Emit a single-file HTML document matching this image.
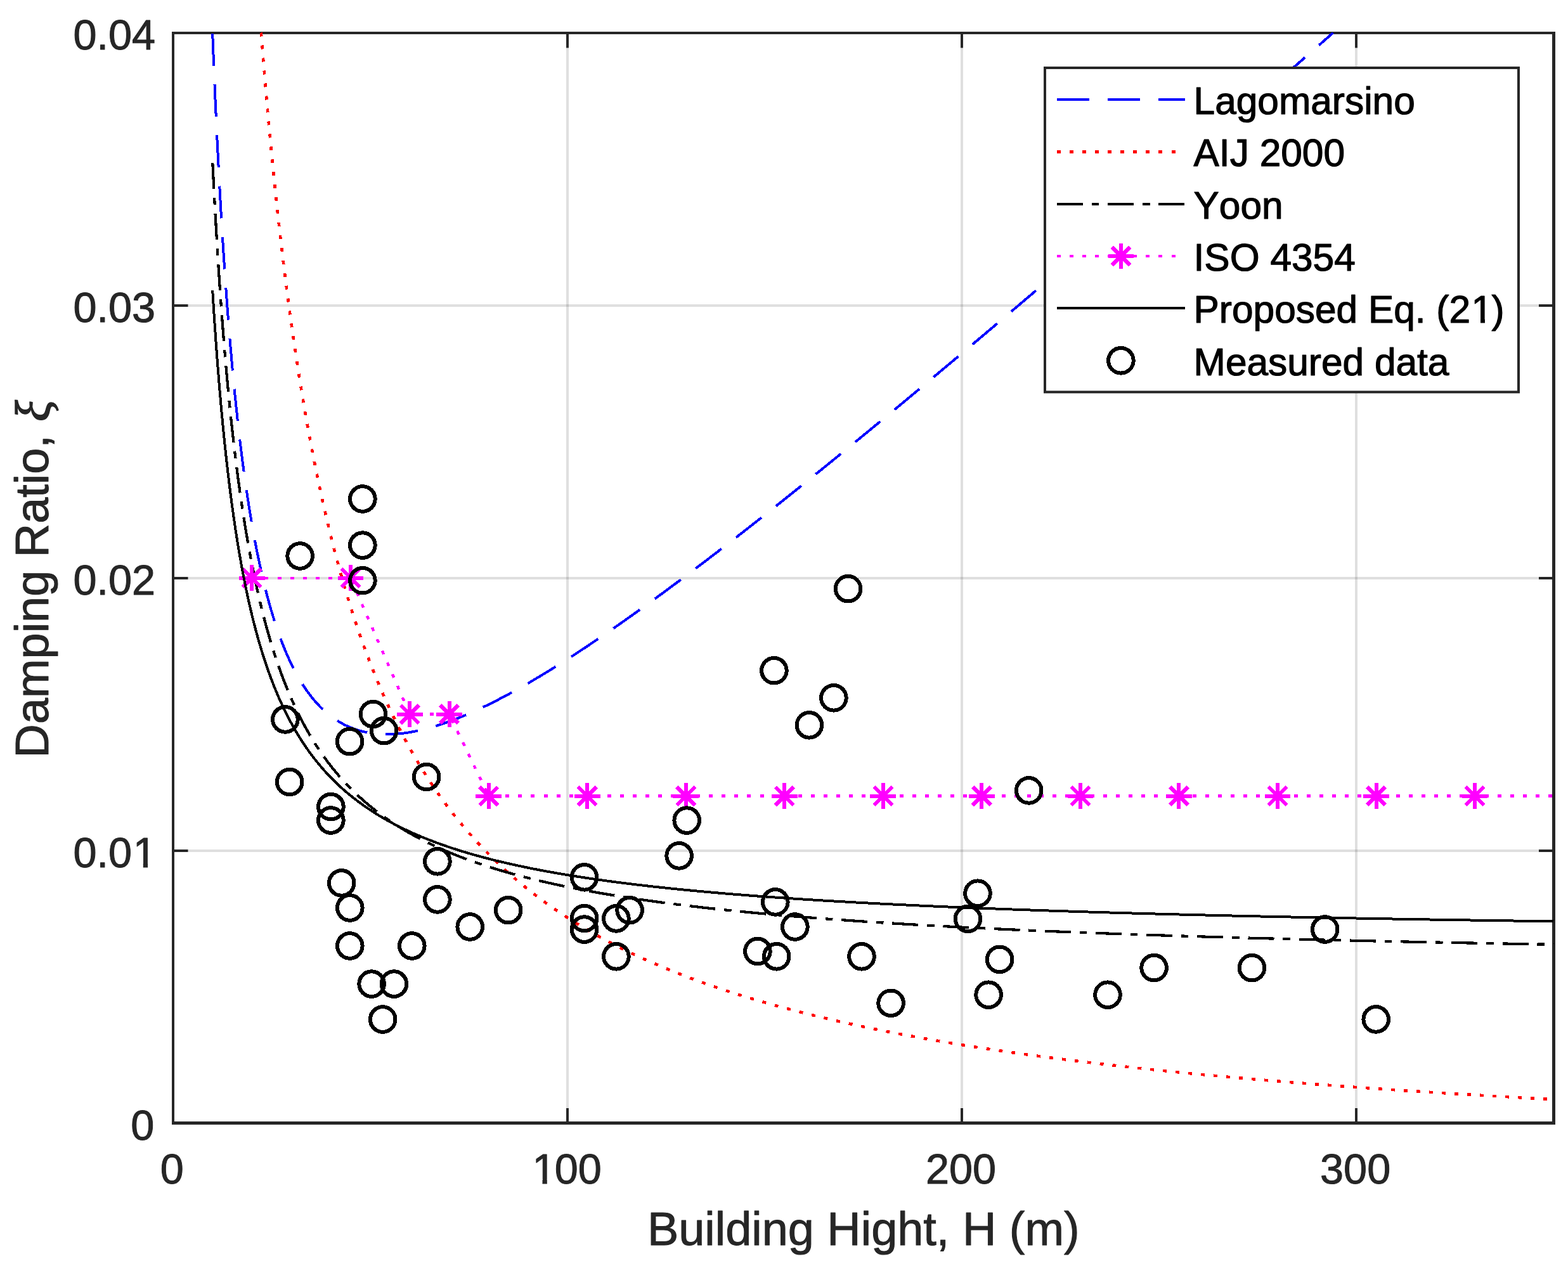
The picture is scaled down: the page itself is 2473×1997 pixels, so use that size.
<!DOCTYPE html><html><head><meta charset="utf-8"><title>Damping ratio vs building height</title><style>html,body{margin:0;padding:0;background:#fff;overflow:hidden}svg{display:block}text{font-kerning:none}</style></head><body>
<svg xmlns="http://www.w3.org/2000/svg" width="2473" height="1997" viewBox="0 0 2473 1997">
<rect x="0" y="0" width="2473" height="1997" fill="#fff"/>
<defs><clipPath id="ax"><rect x="273.00" y="52.00" width="2177.50" height="1719.40"/></clipPath>
<g id="ast"><path d="M-20.40 0H20.40M0 -20.40V20.40M-14.42 -14.42L14.42 14.42M-14.42 14.42L14.42 -14.42" fill="none" stroke="#ff00ff" stroke-width="6"/></g>
</defs>
<g fill="#262626" fill-opacity="0.15"><rect x="893" y="52.0" width="4" height="1719.5"/><rect x="1515" y="52.0" width="4" height="1719.5"/><rect x="2137" y="52.0" width="4" height="1719.5"/><rect x="273.0" y="1340" width="2177.5" height="4"/><rect x="273.0" y="910" width="2177.5" height="4"/><rect x="273.0" y="480" width="2177.5" height="4"/></g>
<g fill="#262626"><rect x="893" y="1748.0" width="4" height="23.5"/><rect x="893" y="52.0" width="4" height="23.5"/><rect x="1515" y="1748.0" width="4" height="23.5"/><rect x="1515" y="52.0" width="4" height="23.5"/><rect x="2137" y="1748.0" width="4" height="23.5"/><rect x="2137" y="52.0" width="4" height="23.5"/><rect x="273.0" y="1340" width="23.5" height="4"/><rect x="2427.0" y="1340" width="23.5" height="4"/><rect x="273.0" y="910" width="23.5" height="4"/><rect x="2427.0" y="910" width="23.5" height="4"/><rect x="273.0" y="480" width="23.5" height="4"/><rect x="2427.0" y="480" width="23.5" height="4"/><rect x="271" y="50" width="2182" height="4"/><rect x="271" y="1769" width="2182" height="5"/><rect x="271" y="50" width="4" height="1724"/><rect x="2448" y="50" width="5" height="1724"/></g>
<g fill="none" shape-rendering="crispEdges">
<path d="M335.21 53.06L335.33 56.06L335.45 59.06L335.56 62.05L335.68 65.05L335.80 68.04L335.92 71.04L336.04 74.03L336.16 77.03L336.28 80.02L336.40 83.02L336.52 86.01L336.64 89.01L336.76 92.00L336.88 95.00L337.01 97.99L337.13 100.99L337.25 103.98L337.38 106.98L337.50 109.97L337.63 112.96L337.76 115.96L337.88 118.95L338.01 121.95L338.14 124.94L338.26 127.94L338.39 130.93L338.52 133.93L338.65 136.92L338.78 139.92L338.91 142.91L339.04 145.91L339.17 148.90L339.31 151.90L339.44 154.89L339.57 157.88L339.71 160.88L339.84 163.87L339.98 166.87L340.11 169.86L340.25 172.86L340.38 175.85L340.52 178.84L340.66 181.84L340.80 184.83L340.94 187.83L341.08 190.82L341.22 193.82L341.36 196.81L341.50 199.80L341.64 202.80L341.78 205.79L341.93 208.79L342.07 211.78L342.21 214.77L342.36 217.77L342.51 220.76L342.65 223.76L342.80 226.75L342.95 229.74L343.10 232.74L343.24 235.73L343.39 238.72L343.54 241.72L343.70 244.71L343.85 247.71L344.00 250.70L344.15 253.69L344.31 256.69L344.46 259.68L344.62 262.67L344.77 265.67L344.93 268.66L345.09 271.65L345.24 274.65L345.40 277.64L345.56 280.63L345.72 283.63L345.88 286.62L346.04 289.61L346.21 292.61L346.37 295.60L346.53 298.59L346.70 301.58L346.86 304.58L347.03 307.57L347.20 310.56L347.37 313.56L347.53 316.55L347.70 319.54L347.87 322.53L348.05 325.53L348.22 328.52L348.39 331.51L348.56 334.50L348.74 337.50L348.91 340.49L349.09 343.48L349.27 346.47L349.44 349.46L349.62 352.46L349.80 355.45L349.98 358.44L350.16 361.43L350.35 364.42L350.53 367.42L350.71 370.41L350.90 373.40L351.08 376.39L351.27 379.38L351.46 382.37L351.65 385.37L351.84 388.36L352.03 391.35L352.22 394.34L352.41 397.33L352.61 400.32L352.80 403.31L353.00 406.30L353.19 409.30L353.39 412.29L353.59 415.28L353.79 418.27L353.99 421.26L354.19 424.25L354.40 427.24L354.60 430.23L354.81 433.22L355.01 436.21L355.22 439.20L355.43 442.19L355.64 445.18L355.85 448.17L356.06 451.16L356.27 454.15L356.49 457.14L356.70 460.13L356.92 463.12L357.14 466.11L357.35 469.10L357.57 472.09L357.80 475.08L358.02 478.07L358.24 481.06L358.47 484.05L358.69 487.03L358.92 490.02L359.15 493.01L359.38 496.00L359.61 498.99L359.84 501.98L360.08 504.97L360.31 507.95L360.55 510.94L360.79 513.93L361.03 516.92L361.27 519.90L361.51 522.89L361.76 525.88L362.00 528.87L362.25 531.85L362.50 534.84L362.75 537.83L363.00 540.82L363.25 543.80L363.50 546.79L363.76 549.78L364.02 552.76L364.28 555.75L364.54 558.73L364.80 561.72L365.06 564.71L365.33 567.69L365.59 570.68L365.86 573.66L366.13 576.65L366.41 579.63L366.68 582.62L366.95 585.60L367.23 588.59L367.51 591.57L367.79 594.56L368.07 597.54L368.36 600.52L368.64 603.51L368.93 606.49L369.22 609.47L369.51 612.46L369.81 615.44L370.10 618.42L370.40 621.41L370.70 624.39L371.00 627.37L371.31 630.35L371.61 633.33L371.92 636.32L372.23 639.30L372.54 642.28L372.85 645.26L373.17 648.24L373.49 651.22L373.81 654.20L374.13 657.18L374.46 660.16L374.79 663.14L375.11 666.12L375.45 669.10L375.78 672.08L376.12 675.06L376.46 678.03L376.80 681.01L377.14 683.99L377.49 686.97L377.84 689.94L378.19 692.92L378.54 695.90L378.90 698.87L379.26 701.85L379.62 704.82L379.99 707.80L380.35 710.77L380.73 713.75L381.10 716.72L381.47 719.70L381.85 722.67L382.24 725.64L382.62 728.62L383.01 731.59L383.40 734.56L383.79 737.53L384.19 740.50L384.59 743.47L384.99 746.44L385.40 749.41L385.81 752.38L386.22 755.35L386.64 758.32L387.06 761.29L387.48 764.25L387.91 767.22L388.34 770.19L388.77 773.15L389.21 776.12L389.65 779.08L390.10 782.05L390.55 785.01L391.00 787.97L391.46 790.94L391.92 793.90L392.38 796.86L392.85 799.82L393.32 802.78L393.80 805.74L394.28 808.70L394.77 811.66L395.26 814.61L395.75 817.57L396.25 820.53L396.75 823.48L397.26 826.43L397.77 829.39L398.29 832.34L398.81 835.29L399.34 838.24L399.87 841.19L400.41 844.14L400.95 847.09L401.50 850.04L402.06 852.98L402.61 855.93L403.18 858.87L403.75 861.81L404.32 864.75L404.90 867.70L405.49 870.63L406.09 873.57L406.68 876.51L407.29 879.45L407.90 882.38L408.52 885.31L409.14 888.24L409.77 891.17L410.41 894.10L411.06 897.03L411.71 899.96L412.37 902.88L413.03 905.80L413.71 908.72L414.39 911.64L415.08 914.56L415.77 917.48L416.48 920.39L417.19 923.30L417.91 926.21L418.64 929.12L419.37 932.02L420.12 934.93L420.88 937.83L421.64 940.73L422.41 943.62L423.19 946.52L423.99 949.41L424.79 952.29L425.60 955.18L426.42 958.06L427.25 960.94L428.10 963.82L428.95 966.69L429.82 969.56L430.69 972.43L431.58 975.29L432.48 978.15L433.39 981.01L434.32 983.86L435.25 986.71L436.20 989.55L437.16 992.39L438.14 995.22L439.13 998.05L440.13 1000.88L441.15 1003.69L442.18 1006.51L443.23 1009.32L444.29 1012.12L445.37 1014.92L446.47 1017.71L447.58 1020.49L448.71 1023.27L449.85 1026.04L451.01 1028.80L452.20 1031.55L453.40 1034.30L454.61 1037.04L455.85 1039.77L457.11 1042.49L458.39 1045.20L459.69 1047.90L461.01 1050.59L462.35 1053.27L463.72 1055.94L465.11 1058.60L466.52 1061.24L467.96 1063.87L469.42 1066.49L470.91 1069.09L472.42 1071.68L473.96 1074.25L475.53 1076.81L477.12 1079.34L478.74 1081.86L480.39 1084.36L482.08 1086.85L483.79 1089.31L485.53 1091.74L487.31 1094.16L489.11 1096.55L490.95 1098.92L492.83 1101.26L494.74 1103.57L496.68 1105.85L498.66 1108.10L500.67 1110.33L502.72 1112.51L504.80 1114.67L506.92 1116.78L509.08 1118.86L511.28 1120.90L513.51 1122.90L515.78 1124.86L518.09 1126.77L520.44 1128.64L522.82 1130.45L525.24 1132.22L527.69 1133.94L530.19 1135.61L532.71 1137.22L535.27 1138.78L537.87 1140.29L540.49 1141.73L543.15 1143.12L545.84 1144.44L548.55 1145.71L551.30 1146.91L554.07 1148.06L556.86 1149.14L559.68 1150.16L562.52 1151.11L565.39 1152.01L568.27 1152.84L571.16 1153.61L574.08 1154.31L577.00 1154.96L579.94 1155.54L582.89 1156.07L585.85 1156.53L588.82 1156.94L591.80 1157.29L594.78 1157.59L597.77 1157.83L600.76 1158.01L603.76 1158.15L606.75 1158.23L609.75 1158.26L612.75 1158.25L615.74 1158.18L618.74 1158.07L621.73 1157.92L624.72 1157.72L627.71 1157.48L630.70 1157.20L633.68 1156.88L636.65 1156.52L639.62 1156.12L642.59 1155.69L645.55 1155.22L648.51 1154.72L651.45 1154.18L654.40 1153.61L657.33 1153.02L660.27 1152.39L663.19 1151.73L666.11 1151.04L669.02 1150.33L671.92 1149.59L674.82 1148.83L677.71 1148.03L680.60 1147.22L683.48 1146.38L686.35 1145.52L689.21 1144.64L692.07 1143.74L694.92 1142.81L697.77 1141.87L700.60 1140.90L703.43 1139.92L706.26 1138.92L709.08 1137.90L711.89 1136.86L714.70 1135.80L717.50 1134.73L720.29 1133.65L723.08 1132.54L725.86 1131.43L728.63 1130.29L731.40 1129.15L734.17 1127.99L736.92 1126.81L739.68 1125.62L742.42 1124.42L745.16 1123.21L747.90 1121.99L750.63 1120.75L753.35 1119.50L756.07 1118.24L758.79 1116.97L761.50 1115.68L764.20 1114.39L766.90 1113.09L769.59 1111.77L772.28 1110.45L774.97 1109.12L777.65 1107.78L780.32 1106.42L782.99 1105.06L785.66 1103.69L788.32 1102.32L790.98 1100.93L793.63 1099.53L796.28 1098.13L798.93 1096.72L801.57 1095.30L804.20 1093.88L806.84 1092.44L809.47 1091.00L812.09 1089.55L814.71 1088.10L817.33 1086.64L819.94 1085.17L822.55 1083.70L825.16 1082.21L827.76 1080.73L830.36 1079.23L832.95 1077.73L835.55 1076.23L838.13 1074.72L840.72 1073.20L843.30 1071.68L845.88 1070.15L848.45 1068.62L851.03 1067.08L853.60 1065.53L856.16 1063.98L858.73 1062.43L861.29 1060.87L863.84 1059.31L866.40 1057.74L868.95 1056.16L871.50 1054.59L874.04 1053.00L876.59 1051.42L879.13 1049.83L881.66 1048.23L884.20 1046.63L886.73 1045.03L889.26 1043.42L891.79 1041.81L894.31 1040.19L896.83 1038.57L899.35 1036.95L901.87 1035.32L904.38 1033.69L906.90 1032.05L909.41 1030.41L911.91 1028.77L914.42 1027.13L916.92 1025.48L919.42 1023.83L921.92 1022.17L924.42 1020.51L926.91 1018.85L929.41 1017.18L931.90 1015.51L934.38 1013.84L936.87 1012.17L939.35 1010.49L941.84 1008.81L944.32 1007.13L946.79 1005.44L949.27 1003.75L951.74 1002.06L954.22 1000.37L956.69 998.67L959.16 996.97L961.62 995.26L964.09 993.56L966.55 991.85L969.01 990.14L971.47 988.43L973.93 986.71L976.39 984.99L978.84 983.27L981.29 981.55L983.75 979.83L986.19 978.10L988.64 976.37L991.09 974.64L993.53 972.90L995.98 971.17L998.42 969.43L1000.86 967.69L1003.30 965.95L1005.74 964.20L1008.17 962.45L1010.61 960.71L1013.04 958.96L1015.47 957.20L1017.90 955.45L1020.33 953.69L1022.76 951.93L1025.18 950.17L1027.61 948.41L1030.03 946.64L1032.45 944.88L1034.87 943.11L1037.29 941.34L1039.71 939.57L1042.13 937.80L1044.54 936.02L1046.96 934.24L1049.37 932.47L1051.78 930.69L1054.19 928.90L1056.60 927.12L1059.01 925.34L1061.42 923.55L1063.82 921.76L1066.23 919.97L1068.63 918.18L1071.03 916.39L1073.43 914.59L1075.83 912.80L1078.23 911.00L1080.63 909.20L1083.03 907.40L1085.42 905.60L1087.82 903.80L1090.21 901.99L1092.60 900.19L1094.99 898.38L1097.38 896.57L1099.77 894.76L1102.16 892.95L1104.55 891.14L1106.94 889.33L1109.32 887.51L1111.71 885.70L1114.09 883.88L1116.47 882.06L1118.85 880.24L1121.24 878.42L1123.61 876.60L1125.99 874.77L1128.37 872.95L1130.75 871.12L1133.13 869.29L1135.50 867.47L1137.87 865.64L1140.25 863.81L1142.62 861.97L1144.99 860.14L1147.36 858.31L1149.73 856.47L1152.10 854.64L1154.47 852.80L1156.84 850.96L1159.21 849.12L1161.57 847.28L1163.94 845.44L1166.30 843.60L1168.67 841.76L1171.03 839.91L1173.39 838.07L1175.75 836.22L1178.11 834.37L1180.47 832.52L1182.83 830.67L1185.19 828.82L1187.55 826.97L1189.90 825.12L1192.26 823.27L1194.62 821.42L1196.97 819.56L1199.32 817.70L1201.68 815.85L1204.03 813.99L1206.38 812.13L1208.73 810.27L1211.08 808.41L1213.43 806.55L1215.78 804.69L1218.13 802.83L1220.48 800.97L1222.83 799.10L1225.17 797.24L1227.52 795.37L1229.86 793.50L1232.21 791.64L1234.55 789.77L1236.90 787.90L1239.24 786.03L1241.58 784.16L1243.92 782.29L1246.26 780.42L1248.61 778.54L1250.95 776.67L1253.28 774.80L1255.62 772.92L1257.96 771.05L1260.30 769.17L1262.64 767.29L1264.97 765.41L1267.31 763.54L1269.64 761.66L1271.98 759.78L1274.31 757.90L1276.64 756.01L1278.98 754.13L1281.31 752.25L1283.64 750.37L1285.97 748.48L1288.30 746.60L1290.63 744.71L1292.96 742.83L1295.29 740.94L1297.62 739.05L1299.95 737.17L1302.28 735.28L1304.61 733.39L1306.93 731.50L1309.26 729.61L1311.58 727.72L1313.91 725.83L1316.23 723.93L1318.56 722.04L1320.88 720.15L1323.21 718.25L1325.53 716.36L1327.85 714.46L1330.17 712.57L1332.50 710.67L1334.82 708.78L1337.14 706.88L1339.46 704.98L1341.78 703.08L1344.10 701.18L1346.41 699.28L1348.73 697.38L1351.05 695.48L1353.37 693.58L1355.69 691.68L1358.00 689.78L1360.32 687.88L1362.63 685.97L1364.95 684.07L1367.26 682.17L1369.58 680.26L1371.89 678.36L1374.21 676.45L1376.52 674.54L1378.83 672.64L1381.15 670.73L1383.46 668.82L1385.77 666.92L1388.08 665.01L1390.39 663.10L1392.70 661.19L1395.01 659.28L1397.32 657.37L1399.63 655.46L1401.94 653.55L1404.25 651.63L1406.56 649.72L1408.87 647.81L1411.17 645.90L1413.48 643.98L1415.79 642.07L1418.09 640.15L1420.40 638.24L1422.70 636.32L1425.01 634.41L1427.31 632.49L1429.62 630.58L1431.92 628.66L1434.23 626.74L1436.53 624.82L1438.83 622.90L1441.14 620.99L1443.44 619.07L1445.74 617.15L1448.04 615.23L1450.35 613.31L1452.65 611.39L1454.95 609.47L1457.25 607.54L1459.55 605.62L1461.85 603.70L1464.15 601.78L1466.45 599.85L1468.75 597.93L1471.05 596.01L1473.34 594.08L1475.64 592.16L1477.94 590.23L1480.24 588.31L1482.53 586.38L1484.83 584.46L1487.13 582.53L1489.42 580.60L1491.72 578.68L1494.01 576.75L1496.31 574.82L1498.61 572.89L1500.90 570.97L1503.19 569.04L1505.49 567.11L1507.78 565.18L1510.08 563.25L1512.37 561.32L1514.66 559.39L1516.96 557.46L1519.25 555.53L1521.54 553.59L1523.83 551.66L1526.12 549.73L1528.41 547.80L1530.71 545.87L1533.00 543.93L1535.29 542.00L1537.58 540.07L1539.87 538.13L1542.16 536.20L1544.45 534.26L1546.74 532.33L1549.03 530.39L1551.31 528.46L1553.60 526.52L1555.89 524.58L1558.18 522.65L1560.47 520.71L1562.75 518.77L1565.04 516.84L1567.33 514.90L1569.61 512.96L1571.90 511.02L1574.19 509.09L1576.47 507.15L1578.76 505.21L1581.04 503.27L1583.33 501.33L1585.62 499.39L1587.90 497.45L1590.18 495.51L1592.47 493.57L1594.75 491.63L1597.04 489.68L1599.32 487.74L1601.60 485.80L1603.89 483.86L1606.17 481.92L1608.45 479.97L1610.74 478.03L1613.02 476.09L1615.30 474.15L1617.58 472.20L1619.86 470.26L1622.14 468.31L1624.43 466.37L1626.71 464.42L1628.99 462.48L1631.27 460.53L1633.55 458.59L1635.83 456.64L1638.11 454.70L1640.39 452.75L1642.67 450.80L1644.95 448.86L1647.23 446.91L1649.51 444.96L1651.78 443.02L1654.06 441.07L1656.34 439.12L1658.62 437.17L1660.90 435.23L1663.17 433.28L1665.45 431.33L1667.73 429.38L1670.01 427.43L1672.28 425.48L1674.56 423.53L1676.84 421.58L1679.11 419.63L1681.39 417.68L1683.66 415.73L1685.94 413.78L1688.22 411.83L1690.49 409.88L1692.77 407.93L1695.04 405.97L1697.32 404.02L1699.59 402.07L1701.87 400.12L1704.14 398.17L1706.41 396.21L1708.69 394.26L1710.96 392.31L1713.24 390.35L1715.51 388.40L1717.78 386.45L1720.06 384.49L1722.33 382.54L1724.60 380.58L1726.87 378.63L1729.15 376.67L1731.42 374.72L1733.69 372.76L1735.96 370.81L1738.23 368.85L1740.50 366.90L1742.78 364.94L1745.05 362.99L1747.32 361.03L1749.59 359.07L1751.86 357.12L1754.13 355.16L1756.40 353.20L1758.67 351.24L1760.94 349.29L1763.21 347.33L1765.48 345.37L1767.75 343.41L1770.02 341.46L1772.29 339.50L1774.56 337.54L1776.83 335.58L1779.10 333.62L1781.36 331.66L1783.63 329.70L1785.90 327.74L1788.17 325.78L1790.44 323.82L1792.70 321.86L1794.97 319.90L1797.24 317.94L1799.51 315.98L1801.77 314.02L1804.04 312.06L1806.31 310.10L1808.58 308.14L1810.84 306.18L1813.11 304.22L1815.38 302.26L1817.64 300.29L1819.91 298.33L1822.17 296.37L1824.44 294.41L1826.71 292.44L1828.97 290.48L1831.24 288.52L1833.50 286.56L1835.77 284.59L1838.03 282.63L1840.30 280.67L1842.56 278.70L1844.83 276.74L1847.09 274.78L1849.35 272.81L1851.62 270.85L1853.88 268.88L1856.15 266.92L1858.41 264.95L1860.67 262.99L1862.94 261.02L1865.20 259.06L1867.46 257.09L1869.73 255.13L1871.99 253.16L1874.25 251.20L1876.52 249.23L1878.78 247.26L1881.04 245.30L1883.30 243.33L1885.57 241.37L1887.83 239.40L1890.09 237.43L1892.35 235.47L1894.61 233.50L1896.87 231.53L1899.14 229.56L1901.40 227.60L1903.66 225.63L1905.92 223.66L1908.18 221.69L1910.44 219.73L1912.70 217.76L1914.96 215.79L1917.22 213.82L1919.48 211.85L1921.74 209.88L1924.00 207.91L1926.27 205.95L1928.52 203.98L1930.78 202.01L1933.04 200.04L1935.30 198.07L1937.56 196.10L1939.82 194.13L1942.08 192.16L1944.34 190.19L1946.60 188.22L1948.86 186.25L1951.12 184.28L1953.38 182.31L1955.64 180.34L1957.89 178.37L1960.15 176.40L1962.41 174.43L1964.67 172.45L1966.93 170.48L1969.18 168.51L1971.44 166.54L1973.70 164.57L1975.96 162.60L1978.22 160.62L1980.47 158.65L1982.73 156.68L1984.99 154.71L1987.24 152.74L1989.50 150.76L1991.76 148.79L1994.02 146.82L1996.27 144.85L1998.53 142.87L2000.79 140.90L2003.04 138.93L2005.30 136.95L2007.55 134.98L2009.81 133.01L2012.07 131.03L2014.32 129.06L2016.58 127.09L2018.83 125.11L2021.09 123.14L2023.34 121.16L2025.60 119.19L2027.86 117.21L2030.11 115.24L2032.37 113.27L2034.62 111.29L2036.88 109.32L2039.13 107.34L2041.38 105.37L2043.64 103.39L2045.89 101.42L2048.15 99.44L2050.40 97.46L2052.66 95.49L2054.91 93.51L2057.17 91.54L2059.42 89.56L2061.67 87.59L2063.93 85.61L2066.18 83.63L2068.43 81.66L2070.69 79.68L2072.94 77.70L2075.19 75.73L2077.45 73.75L2079.70 71.77L2081.95 69.80L2084.21 67.82L2086.46 65.84L2088.71 63.87L2090.97 61.89L2093.22 59.91L2095.47 57.93L2097.72 55.96L2099.98 53.98L2102.23 52.00" stroke="#0000ff" stroke-width="4" stroke-dasharray="51 29.24"/>
<path d="M411.88 51.50L412.11 54.49L412.34 57.48L412.57 60.47L412.81 63.46L413.04 66.45L413.28 69.44L413.51 72.43L413.75 75.42L413.99 78.41L414.23 81.40L414.47 84.39L414.71 87.38L414.95 90.37L415.19 93.36L415.43 96.35L415.67 99.34L415.92 102.33L416.16 105.32L416.41 108.31L416.66 111.30L416.90 114.29L417.15 117.28L417.40 120.27L417.65 123.26L417.90 126.24L418.15 129.23L418.41 132.22L418.66 135.21L418.92 138.20L419.17 141.19L419.43 144.18L419.68 147.16L419.94 150.15L420.20 153.14L420.46 156.13L420.72 159.12L420.98 162.11L421.25 165.09L421.51 168.08L421.77 171.07L422.04 174.06L422.31 177.04L422.57 180.03L422.84 183.02L423.11 186.01L423.38 188.99L423.65 191.98L423.92 194.97L424.20 197.96L424.47 200.94L424.75 203.93L425.02 206.92L425.30 209.90L425.58 212.89L425.86 215.88L426.14 218.86L426.42 221.85L426.70 224.83L426.98 227.82L427.27 230.81L427.55 233.79L427.84 236.78L428.13 239.76L428.41 242.75L428.70 245.73L428.99 248.72L429.29 251.71L429.58 254.69L429.87 257.68L430.17 260.66L430.46 263.65L430.76 266.63L431.06 269.61L431.36 272.60L431.66 275.58L431.96 278.57L432.26 281.55L432.57 284.54L432.87 287.52L433.18 290.50L433.48 293.49L433.79 296.47L434.10 299.45L434.41 302.44L434.73 305.42L435.04 308.40L435.35 311.39L435.67 314.37L435.99 317.35L436.30 320.34L436.62 323.32L436.94 326.30L437.27 329.28L437.59 332.26L437.91 335.25L438.24 338.23L438.56 341.21L438.89 344.19L439.22 347.17L439.55 350.15L439.88 353.13L440.22 356.12L440.55 359.10L440.89 362.08L441.23 365.06L441.56 368.04L441.90 371.02L442.25 374.00L442.59 376.98L442.93 379.96L443.28 382.94L443.62 385.92L443.97 388.89L444.32 391.87L444.67 394.85L445.03 397.83L445.38 400.81L445.74 403.79L446.09 406.77L446.45 409.74L446.81 412.72L447.17 415.70L447.53 418.68L447.90 421.65L448.26 424.63L448.63 427.61L449.00 430.59L449.37 433.56L449.74 436.54L450.11 439.51L450.49 442.49L450.87 445.47L451.24 448.44L451.62 451.42L452.00 454.39L452.39 457.37L452.77 460.34L453.16 463.32L453.54 466.29L453.93 469.27L454.32 472.24L454.72 475.21L455.11 478.19L455.51 481.16L455.90 484.13L456.30 487.11L456.71 490.08L457.11 493.05L457.51 496.02L457.92 498.99L458.33 501.97L458.74 504.94L459.15 507.91L459.56 510.88L459.98 513.85L460.39 516.82L460.81 519.79L461.23 522.76L461.66 525.73L462.08 528.70L462.51 531.67L462.93 534.64L463.36 537.60L463.80 540.57L464.23 543.54L464.67 546.51L465.10 549.48L465.54 552.44L465.98 555.41L466.43 558.38L466.87 561.34L467.32 564.31L467.77 567.27L468.22 570.24L468.68 573.20L469.13 576.17L469.59 579.13L470.05 582.10L470.51 585.06L470.98 588.02L471.44 590.99L471.91 593.95L472.38 596.91L472.86 599.87L473.33 602.84L473.81 605.80L474.29 608.76L474.77 611.72L475.25 614.68L475.74 617.64L476.23 620.60L476.72 623.56L477.21 626.52L477.71 629.47L478.21 632.43L478.71 635.39L479.21 638.35L479.71 641.30L480.22 644.26L480.73 647.21L481.24 650.17L481.76 653.12L482.27 656.08L482.79 659.03L483.32 661.99L483.84 664.94L484.37 667.89L484.90 670.85L485.43 673.80L485.96 676.75L486.50 679.70L487.04 682.65L487.59 685.60L488.13 688.55L488.68 691.50L489.23 694.45L489.78 697.39L490.34 700.34L490.90 703.29L491.46 706.24L492.03 709.18L492.59 712.13L493.16 715.07L493.74 718.02L494.31 720.96L494.89 723.90L495.47 726.84L496.06 729.79L496.65 732.73L497.24 735.67L497.83 738.61L498.43 741.55L499.03 744.49L499.63 747.43L500.24 750.36L500.85 753.30L501.46 756.24L502.07 759.17L502.69 762.11L503.31 765.04L503.94 767.97L504.57 770.91L505.20 773.84L505.84 776.77L506.47 779.70L507.11 782.63L507.76 785.56L508.41 788.49L509.06 791.42L509.72 794.34L510.37 797.27L511.04 800.20L511.70 803.12L512.37 806.04L513.04 808.97L513.72 811.89L514.40 814.81L515.08 817.73L515.77 820.65L516.46 823.57L517.16 826.49L517.86 829.40L518.56 832.32L519.27 835.24L519.98 838.15L520.69 841.06L521.41 843.98L522.13 846.89L522.86 849.80L523.59 852.71L524.32 855.62L525.06 858.52L525.80 861.43L526.54 864.33L527.30 867.24L528.05 870.14L528.81 873.04L529.57 875.94L530.34 878.84L531.11 881.74L531.88 884.64L532.66 887.54L533.45 890.43L534.24 893.32L535.03 896.22L535.83 899.11L536.63 902.00L537.44 904.89L538.25 907.78L539.07 910.66L539.89 913.55L540.71 916.43L541.54 919.31L542.38 922.19L543.22 925.07L544.06 927.95L544.91 930.83L545.77 933.70L546.62 936.58L547.49 939.45L548.36 942.32L549.23 945.19L550.11 948.06L551.00 950.92L551.89 953.79L552.78 956.65L553.68 959.51L554.59 962.37L555.50 965.23L556.41 968.08L557.34 970.94L558.26 973.79L559.20 976.64L560.13 979.49L561.08 982.34L562.03 985.18L562.98 988.03L563.94 990.87L564.91 993.71L565.88 996.55L566.86 999.38L567.84 1002.22L568.83 1005.05L569.83 1007.88L570.83 1010.70L571.83 1013.53L572.85 1016.35L573.87 1019.17L574.89 1021.99L575.93 1024.81L576.96 1027.62L578.01 1030.43L579.06 1033.24L580.12 1036.05L581.18 1038.86L582.25 1041.66L583.33 1044.46L584.41 1047.25L585.50 1050.05L586.59 1052.84L587.70 1055.63L588.81 1058.42L589.92 1061.20L591.05 1063.98L592.18 1066.76L593.31 1069.54L594.46 1072.31L595.61 1075.08L596.77 1077.85L597.93 1080.61L599.10 1083.37L600.28 1086.13L601.47 1088.88L602.66 1091.64L603.86 1094.38L605.07 1097.13L606.29 1099.87L607.51 1102.61L608.74 1105.35L609.98 1108.08L611.23 1110.81L612.48 1113.53L613.74 1116.25L615.01 1118.97L616.29 1121.68L617.57 1124.39L618.86 1127.10L620.16 1129.80L621.47 1132.50L622.79 1135.20L624.11 1137.89L625.44 1140.58L626.78 1143.26L628.13 1145.94L629.49 1148.61L630.86 1151.29L632.23 1153.95L633.61 1156.61L635.00 1159.27L636.40 1161.93L637.81 1164.57L639.22 1167.22L640.65 1169.86L642.08 1172.49L643.52 1175.12L644.97 1177.75L646.43 1180.37L647.89 1182.99L649.37 1185.60L650.86 1188.20L652.35 1190.81L653.85 1193.40L655.36 1195.99L656.88 1198.58L658.41 1201.16L659.95 1203.73L661.50 1206.30L663.06 1208.87L664.62 1211.42L666.20 1213.98L667.78 1216.52L669.37 1219.07L670.98 1221.60L672.59 1224.13L674.21 1226.66L675.84 1229.17L677.48 1231.68L679.13 1234.19L680.79 1236.69L682.45 1239.18L684.13 1241.67L685.82 1244.15L687.51 1246.62L689.22 1249.09L690.93 1251.55L692.66 1254.01L694.39 1256.45L696.14 1258.89L697.89 1261.33L699.65 1263.75L701.42 1266.17L703.21 1268.59L705.00 1270.99L706.80 1273.39L708.61 1275.78L710.43 1278.17L712.26 1280.54L714.10 1282.91L715.95 1285.28L717.81 1287.63L719.67 1289.98L721.55 1292.32L723.44 1294.65L725.34 1296.97L727.24 1299.29L729.16 1301.59L731.08 1303.89L733.02 1306.19L734.96 1308.47L736.92 1310.75L738.88 1313.01L740.85 1315.27L742.83 1317.52L744.83 1319.77L746.83 1322.00L748.84 1324.23L750.86 1326.44L752.89 1328.65L754.93 1330.85L756.97 1333.04L759.03 1335.23L761.10 1337.40L763.17 1339.57L765.26 1341.72L767.35 1343.87L769.46 1346.01L771.57 1348.14L773.69 1350.26L775.82 1352.37L777.96 1354.47L780.11 1356.57L782.26 1358.65L784.43 1360.73L786.60 1362.79L788.78 1364.85L790.98 1366.90L793.18 1368.94L795.39 1370.97L797.60 1372.99L799.83 1375.00L802.06 1377.00L804.31 1378.99L806.56 1380.97L808.82 1382.94L811.09 1384.91L813.36 1386.86L815.65 1388.80L817.94 1390.74L820.24 1392.66L822.55 1394.58L824.86 1396.49L827.19 1398.38L829.52 1400.27L831.86 1402.15L834.20 1404.02L836.56 1405.87L838.92 1407.72L841.29 1409.56L843.67 1411.39L846.05 1413.21L848.44 1415.02L850.84 1416.82L853.25 1418.61L855.66 1420.39L858.08 1422.17L860.51 1423.93L862.94 1425.68L865.38 1427.42L867.83 1429.16L870.28 1430.88L872.75 1432.60L875.21 1434.30L877.69 1436.00L880.17 1437.68L882.65 1439.36L885.15 1441.03L887.65 1442.69L890.15 1444.34L892.66 1445.98L895.18 1447.61L897.71 1449.23L900.24 1450.84L902.77 1452.44L905.31 1454.03L907.86 1455.62L910.41 1457.19L912.97 1458.76L915.54 1460.31L918.11 1461.86L920.68 1463.40L923.26 1464.93L925.85 1466.45L928.44 1467.96L931.03 1469.46L933.63 1470.96L936.24 1472.44L938.85 1473.92L941.47 1475.38L944.09 1476.84L946.72 1478.29L949.35 1479.73L951.98 1481.16L954.62 1482.59L957.27 1484.00L959.91 1485.41L962.57 1486.81L965.23 1488.20L967.89 1489.58L970.56 1490.95L973.23 1492.32L975.90 1493.67L978.58 1495.02L981.26 1496.36L983.95 1497.69L986.64 1499.02L989.34 1500.34L992.04 1501.64L994.74 1502.94L997.45 1504.24L1000.16 1505.52L1002.87 1506.80L1005.59 1508.06L1008.31 1509.33L1011.04 1510.58L1013.77 1511.82L1016.50 1513.06L1019.23 1514.29L1021.97 1515.52L1024.71 1516.73L1027.46 1517.94L1030.21 1519.14L1032.96 1520.34L1035.71 1521.52L1038.47 1522.70L1041.23 1523.87L1044.00 1525.04L1046.76 1526.19L1049.53 1527.35L1052.31 1528.49L1055.08 1529.63L1057.86 1530.76L1060.64 1531.88L1063.43 1532.99L1066.21 1534.10L1069.00 1535.21L1071.80 1536.30L1074.59 1537.39L1077.39 1538.48L1080.19 1539.55L1082.99 1540.62L1085.79 1541.68L1088.60 1542.74L1091.41 1543.79L1094.22 1544.84L1097.04 1545.87L1099.85 1546.91L1102.67 1547.93L1105.49 1548.95L1108.32 1549.96L1111.14 1550.97L1113.97 1551.97L1116.80 1552.97L1119.63 1553.96L1122.46 1554.94L1125.30 1555.92L1128.14 1556.89L1130.98 1557.86L1133.82 1558.82L1136.66 1559.77L1139.51 1560.72L1142.35 1561.66L1145.20 1562.60L1148.05 1563.53L1150.91 1564.46L1153.76 1565.38L1156.62 1566.30L1159.47 1567.21L1162.33 1568.11L1165.20 1569.01L1168.06 1569.91L1170.92 1570.80L1173.79 1571.68L1176.66 1572.56L1179.53 1573.44L1182.40 1574.31L1185.27 1575.17L1188.14 1576.03L1191.02 1576.88L1193.89 1577.73L1196.77 1578.58L1199.65 1579.42L1202.53 1580.25L1205.42 1581.08L1208.30 1581.91L1211.18 1582.73L1214.07 1583.54L1216.96 1584.36L1219.85 1585.16L1222.74 1585.96L1225.63 1586.76L1228.52 1587.55L1231.42 1588.34L1234.31 1589.13L1237.21 1589.91L1240.10 1590.68L1243.00 1591.45L1245.90 1592.22L1248.80 1592.98L1251.71 1593.74L1254.61 1594.50L1257.51 1595.25L1260.42 1595.99L1263.32 1596.73L1266.23 1597.47L1269.14 1598.21L1272.05 1598.94L1274.96 1599.66L1277.87 1600.38L1280.78 1601.10L1283.70 1601.82L1286.61 1602.53L1289.53 1603.23L1292.44 1603.93L1295.36 1604.63L1298.28 1605.33L1301.20 1606.02L1304.12 1606.71L1307.04 1607.39L1309.96 1608.07L1312.88 1608.75L1315.80 1609.42L1318.73 1610.09L1321.65 1610.75L1324.58 1611.42L1327.50 1612.07L1330.43 1612.73L1333.36 1613.38L1336.29 1614.03L1339.22 1614.67L1342.15 1615.32L1345.08 1615.95L1348.01 1616.59L1350.94 1617.22L1353.87 1617.85L1356.81 1618.47L1359.74 1619.10L1362.68 1619.71L1365.61 1620.33L1368.55 1620.94L1371.49 1621.55L1374.42 1622.16L1377.36 1622.76L1380.30 1623.36L1383.24 1623.96L1386.18 1624.55L1389.12 1625.14L1392.06 1625.73L1395.00 1626.31L1397.95 1626.90L1400.89 1627.48L1403.83 1628.05L1406.78 1628.62L1409.72 1629.19L1412.67 1629.76L1415.61 1630.33L1418.56 1630.89L1421.51 1631.45L1424.45 1632.00L1427.40 1632.56L1430.35 1633.11L1433.30 1633.66L1436.25 1634.20L1439.20 1634.74L1442.15 1635.28L1445.10 1635.82L1448.05 1636.36L1451.00 1636.89L1453.96 1637.42L1456.91 1637.95L1459.86 1638.47L1462.81 1638.99L1465.77 1639.51L1468.72 1640.03L1471.68 1640.54L1474.63 1641.06L1477.59 1641.57L1480.55 1642.07L1483.50 1642.58L1486.46 1643.08L1489.42 1643.58L1492.38 1644.08L1495.33 1644.57L1498.29 1645.07L1501.25 1645.56L1504.21 1646.05L1507.17 1646.53L1510.13 1647.02L1513.09 1647.50L1516.05 1647.98L1519.01 1648.45L1521.97 1648.93L1524.94 1649.40L1527.90 1649.87L1530.86 1650.34L1533.82 1650.81L1536.79 1651.27L1539.75 1651.73L1542.72 1652.19L1545.68 1652.65L1548.64 1653.11L1551.61 1653.56L1554.57 1654.01L1557.54 1654.46L1560.51 1654.91L1563.47 1655.36L1566.44 1655.80L1569.41 1656.24L1572.37 1656.68L1575.34 1657.12L1578.31 1657.55L1581.28 1657.99L1584.24 1658.42L1587.21 1658.85L1590.18 1659.28L1593.15 1659.70L1596.12 1660.13L1599.09 1660.55L1602.06 1660.97L1605.03 1661.39L1608.00 1661.81L1610.97 1662.22L1613.94 1662.64L1616.91 1663.05L1619.88 1663.46L1622.86 1663.86L1625.83 1664.27L1628.80 1664.68L1631.77 1665.08L1634.74 1665.48L1637.72 1665.88L1640.69 1666.28L1643.66 1666.67L1646.64 1667.07L1649.61 1667.46L1652.58 1667.85L1655.56 1668.24L1658.53 1668.63L1661.51 1669.01L1664.48 1669.40L1667.46 1669.78L1670.43 1670.16L1673.41 1670.54L1676.38 1670.92L1679.36 1671.29L1682.33 1671.67L1685.31 1672.04L1688.29 1672.41L1691.26 1672.78L1694.24 1673.15L1697.22 1673.52L1700.19 1673.88L1703.17 1674.25L1706.15 1674.61L1709.13 1674.97L1712.10 1675.33L1715.08 1675.69L1718.06 1676.05L1721.04 1676.40L1724.02 1676.76L1727.00 1677.11L1729.98 1677.46L1732.95 1677.81L1735.93 1678.16L1738.91 1678.50L1741.89 1678.85L1744.87 1679.19L1747.85 1679.54L1750.83 1679.88L1753.81 1680.22L1756.79 1680.56L1759.77 1680.89L1762.75 1681.23L1765.73 1681.56L1768.71 1681.90L1771.70 1682.23L1774.68 1682.56L1777.66 1682.89L1780.64 1683.22L1783.62 1683.54L1786.60 1683.87L1789.59 1684.19L1792.57 1684.52L1795.55 1684.84L1798.53 1685.16L1801.51 1685.48L1804.50 1685.80L1807.48 1686.11L1810.46 1686.43L1813.45 1686.74L1816.43 1687.06L1819.41 1687.37L1822.39 1687.68L1825.38 1687.99L1828.36 1688.30L1831.35 1688.60L1834.33 1688.91L1837.31 1689.21L1840.30 1689.52L1843.28 1689.82L1846.27 1690.12L1849.25 1690.42L1852.23 1690.72L1855.22 1691.02L1858.20 1691.32L1861.19 1691.61L1864.17 1691.91L1867.16 1692.20L1870.14 1692.49L1873.13 1692.79L1876.11 1693.08L1879.10 1693.37L1882.09 1693.65L1885.07 1693.94L1888.06 1694.23L1891.04 1694.51L1894.03 1694.80L1897.01 1695.08L1900.00 1695.36L1902.99 1695.64L1905.97 1695.92L1908.96 1696.20L1911.95 1696.48L1914.93 1696.76L1917.92 1697.03L1920.91 1697.31L1923.89 1697.58L1926.88 1697.86L1929.87 1698.13L1932.86 1698.40L1935.84 1698.67L1938.83 1698.94L1941.82 1699.21L1944.80 1699.47L1947.79 1699.74L1950.78 1700.01L1953.77 1700.27L1956.76 1700.53L1959.74 1700.80L1962.73 1701.06L1965.72 1701.32L1968.71 1701.58L1971.70 1701.84L1974.68 1702.10L1977.67 1702.35L1980.66 1702.61L1983.65 1702.86L1986.64 1703.12L1989.63 1703.37L1992.62 1703.62L1995.61 1703.88L1998.59 1704.13L2001.58 1704.38L2004.57 1704.63L2007.56 1704.88L2010.55 1705.12L2013.54 1705.37L2016.53 1705.62L2019.52 1705.86L2022.51 1706.10L2025.50 1706.35L2028.49 1706.59L2031.48 1706.83L2034.47 1707.07L2037.46 1707.31L2040.45 1707.55L2043.44 1707.79L2046.43 1708.03L2049.42 1708.27L2052.41 1708.50L2055.40 1708.74L2058.39 1708.97L2061.38 1709.21L2064.37 1709.44L2067.36 1709.67L2070.35 1709.90L2073.34 1710.13L2076.33 1710.36L2079.32 1710.59L2082.31 1710.82L2085.30 1711.05L2088.29 1711.27L2091.28 1711.50L2094.28 1711.73L2097.27 1711.95L2100.26 1712.18L2103.25 1712.40L2106.24 1712.62L2109.23 1712.84L2112.22 1713.06L2115.21 1713.28L2118.21 1713.50L2121.20 1713.72L2124.19 1713.94L2127.18 1714.16L2130.17 1714.38L2133.16 1714.59L2136.15 1714.81L2139.15 1715.02L2142.14 1715.24L2145.13 1715.45L2148.12 1715.66L2151.11 1715.87L2154.11 1716.09L2157.10 1716.30L2160.09 1716.51L2163.08 1716.72L2166.07 1716.92L2169.07 1717.13L2172.06 1717.34L2175.05 1717.55L2178.04 1717.75L2181.04 1717.96L2184.03 1718.16L2187.02 1718.37L2190.01 1718.57L2193.01 1718.77L2196.00 1718.98L2198.99 1719.18L2201.98 1719.38L2204.98 1719.58L2207.97 1719.78L2210.96 1719.98L2213.96 1720.18L2216.95 1720.37L2219.94 1720.57L2222.93 1720.77L2225.93 1720.97L2228.92 1721.16L2231.91 1721.36L2234.91 1721.55L2237.90 1721.74L2240.89 1721.94L2243.89 1722.13L2246.88 1722.32L2249.87 1722.51L2252.87 1722.70L2255.86 1722.89L2258.85 1723.08L2261.85 1723.27L2264.84 1723.46L2267.83 1723.65L2270.83 1723.84L2273.82 1724.02L2276.82 1724.21L2279.81 1724.40L2282.80 1724.58L2285.80 1724.77L2288.79 1724.95L2291.78 1725.13L2294.78 1725.32L2297.77 1725.50L2300.77 1725.68L2303.76 1725.86L2306.75 1726.04L2309.75 1726.22L2312.74 1726.40L2315.74 1726.58L2318.73 1726.76L2321.72 1726.94L2324.72 1727.12L2327.71 1727.30L2330.71 1727.47L2333.70 1727.65L2336.70 1727.83L2339.69 1728.00L2342.68 1728.18L2345.68 1728.35L2348.67 1728.52L2351.67 1728.70L2354.66 1728.87L2357.66 1729.04L2360.65 1729.21L2363.65 1729.38L2366.64 1729.56L2369.64 1729.73L2372.63 1729.90L2375.62 1730.06L2378.62 1730.23L2381.61 1730.40L2384.61 1730.57L2387.60 1730.74L2390.60 1730.90L2393.59 1731.07L2396.59 1731.24L2399.58 1731.40L2402.58 1731.57L2405.57 1731.73L2408.57 1731.90L2411.56 1732.06L2414.56 1732.22L2417.55 1732.39L2420.55 1732.55L2423.54 1732.71L2426.54 1732.87L2429.53 1733.03L2432.53 1733.19L2435.52 1733.35L2438.52 1733.51L2441.51 1733.67L2444.51 1733.83L2447.50 1733.99L2450.50 1734.15" stroke="#ff0000" stroke-width="4.6" stroke-dasharray="6 14.06"/>
<path d="M335.32 257.00L335.47 260.00L335.62 262.99L335.77 265.99L335.92 268.98L336.07 271.98L336.22 274.97L336.37 277.97L336.52 280.97L336.68 283.96L336.83 286.96L336.99 289.95L337.14 292.95L337.30 295.94L337.45 298.94L337.61 301.93L337.77 304.93L337.93 307.93L338.09 310.92L338.25 313.92L338.41 316.91L338.57 319.91L338.74 322.90L338.90 325.90L339.07 328.89L339.23 331.89L339.40 334.88L339.57 337.88L339.73 340.87L339.90 343.87L340.07 346.86L340.24 349.85L340.42 352.85L340.59 355.84L340.76 358.84L340.94 361.83L341.11 364.83L341.29 367.82L341.46 370.82L341.64 373.81L341.82 376.80L342.00 379.80L342.18 382.79L342.36 385.79L342.55 388.78L342.73 391.77L342.91 394.77L343.10 397.76L343.29 400.76L343.47 403.75L343.66 406.74L343.85 409.74L344.04 412.73L344.23 415.72L344.43 418.72L344.62 421.71L344.81 424.70L345.01 427.70L345.21 430.69L345.40 433.68L345.60 436.67L345.80 439.67L346.00 442.66L346.21 445.65L346.41 448.65L346.61 451.64L346.82 454.63L347.03 457.62L347.23 460.62L347.44 463.61L347.65 466.60L347.86 469.59L348.08 472.58L348.29 475.58L348.51 478.57L348.72 481.56L348.94 484.55L349.16 487.54L349.38 490.53L349.60 493.53L349.82 496.52L350.05 499.51L350.27 502.50L350.50 505.49L350.73 508.48L350.95 511.47L351.19 514.46L351.42 517.45L351.65 520.44L351.88 523.43L352.12 526.42L352.36 529.41L352.60 532.40L352.84 535.39L353.08 538.38L353.32 541.37L353.57 544.36L353.81 547.35L354.06 550.34L354.31 553.33L354.56 556.32L354.81 559.31L355.07 562.30L355.32 565.29L355.58 568.27L355.84 571.26L356.10 574.25L356.36 577.24L356.62 580.23L356.89 583.21L357.15 586.20L357.42 589.19L357.69 592.18L357.96 595.16L358.24 598.15L358.51 601.14L358.79 604.12L359.07 607.11L359.35 610.10L359.63 613.08L359.91 616.07L360.20 619.06L360.49 622.04L360.78 625.03L361.07 628.01L361.36 631.00L361.66 633.98L361.96 636.97L362.26 639.95L362.56 642.94L362.86 645.92L363.17 648.90L363.47 651.89L363.78 654.87L364.10 657.85L364.41 660.84L364.73 663.82L365.04 666.80L365.37 669.78L365.69 672.77L366.01 675.75L366.34 678.73L366.67 681.71L367.00 684.69L367.34 687.67L367.67 690.65L368.01 693.63L368.35 696.61L368.70 699.59L369.04 702.57L369.39 705.55L369.74 708.53L370.10 711.51L370.45 714.49L370.81 717.47L371.17 720.44L371.54 723.42L371.90 726.40L372.27 729.38L372.65 732.35L373.02 735.33L373.40 738.30L373.78 741.28L374.16 744.25L374.55 747.23L374.94 750.20L375.33 753.18L375.72 756.15L376.12 759.12L376.52 762.09L376.93 765.07L377.34 768.04L377.75 771.01L378.16 773.98L378.58 776.95L379.00 779.92L379.42 782.89L379.85 785.86L380.28 788.83L380.71 791.80L381.15 794.76L381.59 797.73L382.03 800.70L382.48 803.66L382.93 806.63L383.39 809.59L383.84 812.56L384.31 815.52L384.77 818.48L385.24 821.45L385.72 824.41L386.19 827.37L386.68 830.33L387.16 833.29L387.65 836.25L388.14 839.21L388.64 842.17L389.14 845.12L389.65 848.08L390.16 851.04L390.68 853.99L391.20 856.94L391.72 859.90L392.25 862.85L392.78 865.80L393.32 868.75L393.86 871.70L394.41 874.65L394.96 877.60L395.52 880.55L396.08 883.49L396.65 886.44L397.22 889.38L397.79 892.33L398.38 895.27L398.96 898.21L399.56 901.15L400.15 904.09L400.76 907.03L401.37 909.97L401.98 912.90L402.60 915.84L403.23 918.77L403.86 921.70L404.50 924.63L405.14 927.56L405.79 930.49L406.44 933.42L407.11 936.35L407.77 939.27L408.45 942.19L409.13 945.11L409.82 948.03L410.51 950.95L411.21 953.87L411.92 956.78L412.63 959.70L413.36 962.61L414.08 965.52L414.82 968.42L415.56 971.33L416.31 974.24L417.07 977.14L417.84 980.04L418.61 982.94L419.39 985.83L420.18 988.73L420.97 991.62L421.78 994.51L422.59 997.40L423.41 1000.28L424.24 1003.16L425.08 1006.04L425.92 1008.92L426.78 1011.80L427.64 1014.67L428.51 1017.54L429.39 1020.41L430.29 1023.27L431.19 1026.13L432.10 1028.99L433.01 1031.84L433.94 1034.70L434.88 1037.55L435.83 1040.39L436.79 1043.23L437.76 1046.07L438.73 1048.91L439.72 1051.74L440.72 1054.57L441.73 1057.39L442.76 1060.21L443.79 1063.03L444.83 1065.84L445.89 1068.65L446.95 1071.45L448.03 1074.25L449.12 1077.05L450.22 1079.84L451.33 1082.62L452.46 1085.40L453.59 1088.18L454.74 1090.95L455.91 1093.71L457.08 1096.47L458.27 1099.23L459.47 1101.98L460.68 1104.72L461.91 1107.46L463.15 1110.19L464.40 1112.91L465.67 1115.63L466.95 1118.34L468.25 1121.05L469.56 1123.75L470.88 1126.44L472.22 1129.12L473.57 1131.80L474.94 1134.47L476.32 1137.13L477.72 1139.79L479.13 1142.43L480.55 1145.07L482.00 1147.70L483.45 1150.32L484.93 1152.94L486.42 1155.54L487.92 1158.14L489.44 1160.72L490.98 1163.30L492.53 1165.86L494.10 1168.42L495.68 1170.97L497.29 1173.50L498.90 1176.03L500.54 1178.54L502.19 1181.05L503.86 1183.54L505.54 1186.02L507.24 1188.49L508.96 1190.95L510.69 1193.40L512.45 1195.84L514.21 1198.26L516.00 1200.67L517.80 1203.06L519.62 1205.45L521.46 1207.82L523.31 1210.18L525.19 1212.52L527.07 1214.85L528.98 1217.17L530.90 1219.47L532.84 1221.76L534.79 1224.04L536.77 1226.30L538.76 1228.54L540.76 1230.77L542.79 1232.99L544.82 1235.19L546.88 1237.37L548.95 1239.54L551.04 1241.69L553.15 1243.83L555.27 1245.95L557.40 1248.06L559.55 1250.14L561.72 1252.22L563.91 1254.27L566.11 1256.31L568.32 1258.34L570.55 1260.34L572.79 1262.33L575.05 1264.31L577.33 1266.26L579.61 1268.20L581.92 1270.13L584.23 1272.03L586.56 1273.92L588.91 1275.79L591.26 1277.65L593.63 1279.48L596.02 1281.31L598.42 1283.11L600.82 1284.90L603.25 1286.66L605.68 1288.42L608.13 1290.15L610.59 1291.87L613.06 1293.57L615.54 1295.26L618.03 1296.93L620.53 1298.58L623.05 1300.21L625.57 1301.83L628.11 1303.43L630.65 1305.02L633.21 1306.59L635.78 1308.14L638.35 1309.68L640.94 1311.20L643.53 1312.71L646.14 1314.20L648.75 1315.67L651.37 1317.13L654.00 1318.57L656.64 1320.00L659.28 1321.41L661.94 1322.81L664.60 1324.19L667.27 1325.56L669.95 1326.91L672.63 1328.25L675.32 1329.58L678.02 1330.88L680.72 1332.18L683.44 1333.46L686.15 1334.73L688.88 1335.98L691.61 1337.23L694.35 1338.45L697.09 1339.67L699.84 1340.87L702.59 1342.06L705.35 1343.23L708.12 1344.39L710.89 1345.54L713.66 1346.68L716.44 1347.81L719.23 1348.92L722.02 1350.02L724.81 1351.11L727.61 1352.19L730.42 1353.26L733.22 1354.31L736.04 1355.36L738.85 1356.39L741.67 1357.41L744.50 1358.42L747.32 1359.42L750.16 1360.41L752.99 1361.39L755.83 1362.36L758.67 1363.32L761.52 1364.27L764.37 1365.21L767.22 1366.13L770.07 1367.05L772.93 1367.96L775.79 1368.86L778.66 1369.75L781.52 1370.64L784.39 1371.51L787.27 1372.37L790.14 1373.23L793.02 1374.08L795.90 1374.91L798.78 1375.74L801.67 1376.56L804.55 1377.38L807.44 1378.18L810.33 1378.98L813.23 1379.77L816.12 1380.55L819.02 1381.32L821.92 1382.09L824.83 1382.84L827.73 1383.59L830.64 1384.34L833.54 1385.07L836.45 1385.80L839.36 1386.52L842.28 1387.24L845.19 1387.95L848.11 1388.65L851.03 1389.34L853.95 1390.03L856.87 1390.71L859.79 1391.38L862.71 1392.05L865.64 1392.72L868.57 1393.37L871.49 1394.02L874.42 1394.66L877.36 1395.30L880.29 1395.93L883.22 1396.56L886.16 1397.18L889.09 1397.80L892.03 1398.40L894.97 1399.01L897.91 1399.61L900.85 1400.20L903.79 1400.79L906.73 1401.37L909.67 1401.95L912.62 1402.52L915.56 1403.09L918.51 1403.65L921.46 1404.20L924.41 1404.76L927.35 1405.30L930.30 1405.85L933.26 1406.38L936.21 1406.92L939.16 1407.45L942.11 1407.97L945.07 1408.49L948.02 1409.00L950.98 1409.52L953.93 1410.02L956.89 1410.52L959.85 1411.02L962.81 1411.52L965.77 1412.01L968.73 1412.49L971.69 1412.97L974.65 1413.45L977.61 1413.93L980.57 1414.40L983.54 1414.86L986.50 1415.32L989.46 1415.78L992.43 1416.24L995.39 1416.69L998.36 1417.14L1001.33 1417.58L1004.29 1418.02L1007.26 1418.46L1010.23 1418.89L1013.20 1419.32L1016.17 1419.75L1019.14 1420.17L1022.11 1420.59L1025.08 1421.01L1028.05 1421.42L1031.02 1421.84L1033.99 1422.24L1036.96 1422.65L1039.93 1423.05L1042.91 1423.45L1045.88 1423.84L1048.86 1424.23L1051.83 1424.62L1054.80 1425.01L1057.78 1425.39L1060.75 1425.77L1063.73 1426.15L1066.71 1426.53L1069.68 1426.90L1072.66 1427.27L1075.64 1427.64L1078.61 1428.00L1081.59 1428.36L1084.57 1428.72L1087.55 1429.08L1090.53 1429.43L1093.50 1429.78L1096.48 1430.13L1099.46 1430.48L1102.44 1430.82L1105.42 1431.16L1108.40 1431.50L1111.38 1431.84L1114.36 1432.17L1117.35 1432.50L1120.33 1432.83L1123.31 1433.16L1126.29 1433.49L1129.27 1433.81L1132.25 1434.13L1135.24 1434.45L1138.22 1434.76L1141.20 1435.08L1144.19 1435.39L1147.17 1435.70L1150.15 1436.01L1153.14 1436.31L1156.12 1436.62L1159.11 1436.92L1162.09 1437.22L1165.07 1437.52L1168.06 1437.81L1171.04 1438.11L1174.03 1438.40L1177.02 1438.69L1180.00 1438.98L1182.99 1439.26L1185.97 1439.55L1188.96 1439.83L1191.95 1440.11L1194.93 1440.39L1197.92 1440.67L1200.91 1440.94L1203.89 1441.21L1206.88 1441.49L1209.87 1441.76L1212.85 1442.02L1215.84 1442.29L1218.83 1442.56L1221.82 1442.82L1224.81 1443.08L1227.79 1443.34L1230.78 1443.60L1233.77 1443.86L1236.76 1444.11L1239.75 1444.37L1242.74 1444.62L1245.73 1444.87L1248.72 1445.12L1251.70 1445.37L1254.69 1445.61L1257.68 1445.86L1260.67 1446.10L1263.66 1446.34L1266.65 1446.58L1269.64 1446.82L1272.63 1447.06L1275.62 1447.29L1278.61 1447.53L1281.60 1447.76L1284.59 1447.99L1287.59 1448.22L1290.58 1448.45L1293.57 1448.68L1296.56 1448.91L1299.55 1449.13L1302.54 1449.36L1305.53 1449.58L1308.52 1449.80L1311.51 1450.02L1314.51 1450.24L1317.50 1450.46L1320.49 1450.67L1323.48 1450.89L1326.47 1451.10L1329.46 1451.31L1332.46 1451.53L1335.45 1451.74L1338.44 1451.95L1341.43 1452.15L1344.43 1452.36L1347.42 1452.57L1350.41 1452.77L1353.40 1452.97L1356.40 1453.18L1359.39 1453.38L1362.38 1453.58L1365.37 1453.78L1368.37 1453.97L1371.36 1454.17L1374.35 1454.37L1377.35 1454.56L1380.34 1454.75L1383.33 1454.95L1386.33 1455.14L1389.32 1455.33L1392.31 1455.52L1395.31 1455.71L1398.30 1455.89L1401.29 1456.08L1404.29 1456.27L1407.28 1456.45L1410.28 1456.64L1413.27 1456.82L1416.26 1457.00L1419.26 1457.18L1422.25 1457.36L1425.25 1457.54L1428.24 1457.72L1431.23 1457.89L1434.23 1458.07L1437.22 1458.25L1440.22 1458.42L1443.21 1458.59L1446.21 1458.77L1449.20 1458.94L1452.20 1459.11L1455.19 1459.28L1458.19 1459.45L1461.18 1459.62L1464.18 1459.78L1467.17 1459.95L1470.17 1460.11L1473.16 1460.28L1476.16 1460.44L1479.15 1460.61L1482.15 1460.77L1485.14 1460.93L1488.14 1461.09L1491.13 1461.25L1494.13 1461.41L1497.12 1461.57L1500.12 1461.73L1503.11 1461.88L1506.11 1462.04L1509.10 1462.20L1512.10 1462.35L1515.09 1462.50L1518.09 1462.66L1521.09 1462.81L1524.08 1462.96L1527.08 1463.11L1530.07 1463.26L1533.07 1463.41L1536.06 1463.56L1539.06 1463.71L1542.06 1463.86L1545.05 1464.00L1548.05 1464.15L1551.04 1464.30L1554.04 1464.44L1557.04 1464.58L1560.03 1464.73L1563.03 1464.87L1566.02 1465.01L1569.02 1465.15L1572.02 1465.30L1575.01 1465.44L1578.01 1465.57L1581.01 1465.71L1584.00 1465.85L1587.00 1465.99L1589.99 1466.13L1592.99 1466.26L1595.99 1466.40L1598.98 1466.53L1601.98 1466.67L1604.98 1466.80L1607.97 1466.94L1610.97 1467.07L1613.97 1467.20L1616.96 1467.33L1619.96 1467.46L1622.96 1467.59L1625.95 1467.72L1628.95 1467.85L1631.95 1467.98L1634.94 1468.11L1637.94 1468.24L1640.94 1468.36L1643.93 1468.49L1646.93 1468.62L1649.93 1468.74L1652.92 1468.87L1655.92 1468.99L1658.92 1469.11L1661.92 1469.24L1664.91 1469.36L1667.91 1469.48L1670.91 1469.60L1673.90 1469.72L1676.90 1469.84L1679.90 1469.96L1682.90 1470.08L1685.89 1470.20L1688.89 1470.32L1691.89 1470.44L1694.88 1470.56L1697.88 1470.67L1700.88 1470.79L1703.88 1470.91L1706.87 1471.02L1709.87 1471.14L1712.87 1471.25L1715.87 1471.37L1718.86 1471.48L1721.86 1471.59L1724.86 1471.71L1727.85 1471.82L1730.85 1471.93L1733.85 1472.04L1736.85 1472.15L1739.84 1472.26L1742.84 1472.37L1745.84 1472.48L1748.84 1472.59L1751.83 1472.70L1754.83 1472.81L1757.83 1472.92L1760.83 1473.02L1763.82 1473.13L1766.82 1473.24L1769.82 1473.34L1772.82 1473.45L1775.82 1473.55L1778.81 1473.66L1781.81 1473.76L1784.81 1473.87L1787.81 1473.97L1790.80 1474.07L1793.80 1474.18L1796.80 1474.28L1799.80 1474.38L1802.80 1474.48L1805.79 1474.58L1808.79 1474.68L1811.79 1474.78L1814.79 1474.88L1817.78 1474.98L1820.78 1475.08L1823.78 1475.18L1826.78 1475.28L1829.78 1475.38L1832.77 1475.48L1835.77 1475.57L1838.77 1475.67L1841.77 1475.77L1844.77 1475.86L1847.76 1475.96L1850.76 1476.05L1853.76 1476.15L1856.76 1476.24L1859.76 1476.34L1862.75 1476.43L1865.75 1476.53L1868.75 1476.62L1871.75 1476.71L1874.75 1476.80L1877.74 1476.90L1880.74 1476.99L1883.74 1477.08L1886.74 1477.17L1889.74 1477.26L1892.73 1477.35L1895.73 1477.44L1898.73 1477.53L1901.73 1477.62L1904.73 1477.71L1907.73 1477.80L1910.72 1477.89L1913.72 1477.98L1916.72 1478.07L1919.72 1478.15L1922.72 1478.24L1925.71 1478.33L1928.71 1478.41L1931.71 1478.50L1934.71 1478.59L1937.71 1478.67L1940.71 1478.76L1943.70 1478.84L1946.70 1478.93L1949.70 1479.01L1952.70 1479.10L1955.70 1479.18L1958.70 1479.26L1961.69 1479.35L1964.69 1479.43L1967.69 1479.51L1970.69 1479.60L1973.69 1479.68L1976.69 1479.76L1979.68 1479.84L1982.68 1479.92L1985.68 1480.00L1988.68 1480.08L1991.68 1480.16L1994.68 1480.24L1997.68 1480.32L2000.67 1480.40L2003.67 1480.48L2006.67 1480.56L2009.67 1480.64L2012.67 1480.72L2015.67 1480.80L2018.66 1480.88L2021.66 1480.95L2024.66 1481.03L2027.66 1481.11L2030.66 1481.18L2033.66 1481.26L2036.66 1481.34L2039.65 1481.41L2042.65 1481.49L2045.65 1481.57L2048.65 1481.64L2051.65 1481.72L2054.65 1481.79L2057.65 1481.87L2060.64 1481.94L2063.64 1482.01L2066.64 1482.09L2069.64 1482.16L2072.64 1482.23L2075.64 1482.31L2078.64 1482.38L2081.63 1482.45L2084.63 1482.53L2087.63 1482.60L2090.63 1482.67L2093.63 1482.74L2096.63 1482.81L2099.63 1482.88L2102.63 1482.96L2105.62 1483.03L2108.62 1483.10L2111.62 1483.17L2114.62 1483.24L2117.62 1483.31L2120.62 1483.38L2123.62 1483.45L2126.62 1483.51L2129.61 1483.58L2132.61 1483.65L2135.61 1483.72L2138.61 1483.79L2141.61 1483.86L2144.61 1483.92L2147.61 1483.99L2150.61 1484.06L2153.60 1484.13L2156.60 1484.19L2159.60 1484.26L2162.60 1484.33L2165.60 1484.39L2168.60 1484.46L2171.60 1484.53L2174.60 1484.59L2177.59 1484.66L2180.59 1484.72L2183.59 1484.79L2186.59 1484.85L2189.59 1484.92L2192.59 1484.98L2195.59 1485.05L2198.59 1485.11L2201.58 1485.17L2204.58 1485.24L2207.58 1485.30L2210.58 1485.36L2213.58 1485.43L2216.58 1485.49L2219.58 1485.55L2222.58 1485.62L2225.58 1485.68L2228.57 1485.74L2231.57 1485.80L2234.57 1485.86L2237.57 1485.92L2240.57 1485.99L2243.57 1486.05L2246.57 1486.11L2249.57 1486.17L2252.57 1486.23L2255.56 1486.29L2258.56 1486.35L2261.56 1486.41L2264.56 1486.47L2267.56 1486.53L2270.56 1486.59L2273.56 1486.65L2276.56 1486.71L2279.56 1486.77L2282.55 1486.83L2285.55 1486.88L2288.55 1486.94L2291.55 1487.00L2294.55 1487.06L2297.55 1487.12L2300.55 1487.18L2303.55 1487.23L2306.55 1487.29L2309.55 1487.35L2312.54 1487.40L2315.54 1487.46L2318.54 1487.52L2321.54 1487.58L2324.54 1487.63L2327.54 1487.69L2330.54 1487.74L2333.54 1487.80L2336.54 1487.86L2339.54 1487.91L2342.53 1487.97L2345.53 1488.02L2348.53 1488.08L2351.53 1488.13L2354.53 1488.19L2357.53 1488.24L2360.53 1488.30L2363.53 1488.35L2366.53 1488.40L2369.53 1488.46L2372.52 1488.51L2375.52 1488.57L2378.52 1488.62L2381.52 1488.67L2384.52 1488.73L2387.52 1488.78L2390.52 1488.83L2393.52 1488.89L2396.52 1488.94L2399.52 1488.99L2402.51 1489.04L2405.51 1489.10L2408.51 1489.15L2411.51 1489.20L2414.51 1489.25L2417.51 1489.30L2420.51 1489.35L2423.51 1489.41L2426.51 1489.46L2429.51 1489.51L2432.51 1489.56L2435.50 1489.61L2438.50 1489.66L2441.50 1489.71L2444.50 1489.76L2447.50 1489.81L2450.50 1489.86" stroke="#000" stroke-width="4.2" stroke-dasharray="41 13.87 11.5 13.87"/>
<path d="M397.43 911.70L552.96 911.70L646.29 1126.62L708.50 1126.62L770.71 1255.58L926.25 1255.58L1081.79 1255.58L1237.32 1255.58L1392.86 1255.58L1548.39 1255.58L1703.93 1255.58L1859.46 1255.58L2015.00 1255.58L2170.54 1255.58L2326.07 1255.58L2450.50 1255.58" stroke="#ff00ff" stroke-width="4.4" stroke-dasharray="6 14.06"/>
<use href="#ast" x="397.43" y="911.70"/>
<use href="#ast" x="552.96" y="911.70"/>
<use href="#ast" x="646.29" y="1126.62"/>
<use href="#ast" x="708.50" y="1126.62"/>
<use href="#ast" x="770.71" y="1255.58"/>
<use href="#ast" x="926.25" y="1255.58"/>
<use href="#ast" x="1081.79" y="1255.58"/>
<use href="#ast" x="1237.32" y="1255.58"/>
<use href="#ast" x="1392.86" y="1255.58"/>
<use href="#ast" x="1548.39" y="1255.58"/>
<use href="#ast" x="1703.93" y="1255.58"/>
<use href="#ast" x="1859.46" y="1255.58"/>
<use href="#ast" x="2015.00" y="1255.58"/>
<use href="#ast" x="2170.54" y="1255.58"/>
<use href="#ast" x="2326.07" y="1255.58"/>
<path d="M335.21 458.26L335.40 461.25L335.58 464.24L335.76 467.23L335.95 470.23L336.14 473.22L336.32 476.21L336.51 479.20L336.70 482.20L336.89 485.19L337.09 488.18L337.28 491.17L337.47 494.16L337.67 497.16L337.87 500.15L338.07 503.14L338.26 506.13L338.46 509.12L338.67 512.11L338.87 515.11L339.07 518.10L339.28 521.09L339.49 524.08L339.69 527.07L339.90 530.06L340.11 533.05L340.33 536.04L340.54 539.03L340.75 542.02L340.97 545.02L341.19 548.01L341.41 551.00L341.63 553.99L341.85 556.98L342.07 559.97L342.30 562.96L342.52 565.95L342.75 568.94L342.98 571.93L343.21 574.91L343.44 577.90L343.68 580.89L343.91 583.88L344.15 586.87L344.39 589.86L344.62 592.85L344.87 595.84L345.11 598.83L345.35 601.81L345.60 604.80L345.85 607.79L346.10 610.78L346.35 613.77L346.60 616.75L346.86 619.74L347.11 622.73L347.37 625.72L347.63 628.70L347.89 631.69L348.16 634.68L348.42 637.66L348.69 640.65L348.96 643.64L349.23 646.62L349.50 649.61L349.78 652.59L350.06 655.58L350.34 658.56L350.62 661.55L350.90 664.53L351.19 667.52L351.47 670.50L351.76 673.49L352.05 676.47L352.35 679.46L352.64 682.44L352.94 685.42L353.24 688.41L353.54 691.39L353.85 694.37L354.16 697.35L354.47 700.34L354.78 703.32L355.09 706.30L355.41 709.28L355.73 712.26L356.05 715.24L356.37 718.23L356.70 721.21L357.03 724.19L357.36 727.17L357.69 730.15L358.03 733.12L358.37 736.10L358.71 739.08L359.06 742.06L359.40 745.04L359.75 748.02L360.11 750.99L360.46 753.97L360.82 756.95L361.18 759.92L361.55 762.90L361.91 765.88L362.29 768.85L362.66 771.83L363.04 774.80L363.42 777.78L363.80 780.75L364.18 783.72L364.57 786.70L364.97 789.67L365.36 792.64L365.76 795.61L366.17 798.58L366.57 801.55L366.98 804.52L367.40 807.49L367.81 810.46L368.23 813.43L368.66 816.40L369.09 819.37L369.52 822.33L369.95 825.30L370.39 828.27L370.84 831.23L371.28 834.20L371.73 837.16L372.19 840.12L372.65 843.09L373.11 846.05L373.58 849.01L374.05 851.97L374.53 854.93L375.01 857.89L375.50 860.85L375.99 863.81L376.48 866.77L376.98 869.72L377.48 872.68L377.99 875.63L378.50 878.59L379.02 881.54L379.55 884.49L380.07 887.44L380.61 890.39L381.15 893.34L381.69 896.29L382.24 899.24L382.79 902.19L383.35 905.13L383.92 908.08L384.49 911.02L385.07 913.96L385.65 916.90L386.24 919.84L386.83 922.78L387.43 925.72L388.04 928.66L388.65 931.59L389.27 934.53L389.90 937.46L390.53 940.39L391.17 943.32L391.81 946.25L392.46 949.17L393.12 952.10L393.79 955.02L394.46 957.94L395.14 960.86L395.83 963.78L396.52 966.70L397.22 969.61L397.93 972.53L398.65 975.44L399.38 978.35L400.11 981.26L400.85 984.16L401.60 987.06L402.35 989.96L403.12 992.86L403.89 995.76L404.68 998.65L405.47 1001.55L406.27 1004.44L407.08 1007.32L407.90 1010.21L408.73 1013.09L409.56 1015.97L410.41 1018.84L411.27 1021.72L412.13 1024.59L413.01 1027.46L413.90 1030.32L414.79 1033.18L415.70 1036.04L416.62 1038.89L417.55 1041.74L418.49 1044.59L419.44 1047.44L420.40 1050.28L421.37 1053.11L422.36 1055.94L423.35 1058.77L424.36 1061.59L425.38 1064.41L426.41 1067.23L427.46 1070.04L428.52 1072.85L429.59 1075.65L430.67 1078.44L431.76 1081.23L432.87 1084.02L434.00 1086.80L435.13 1089.57L436.28 1092.34L437.45 1095.10L438.63 1097.86L439.82 1100.61L441.03 1103.36L442.25 1106.10L443.48 1108.83L444.74 1111.55L446.00 1114.27L447.28 1116.98L448.58 1119.68L449.90 1122.38L451.23 1125.07L452.57 1127.74L453.93 1130.42L455.31 1133.08L456.71 1135.73L458.12 1138.38L459.55 1141.01L460.99 1143.64L462.45 1146.26L463.93 1148.87L465.43 1151.46L466.95 1154.05L468.48 1156.63L470.03 1159.19L471.60 1161.75L473.19 1164.29L474.79 1166.83L476.41 1169.35L478.06 1171.86L479.72 1174.35L481.40 1176.84L483.09 1179.31L484.81 1181.77L486.55 1184.21L488.30 1186.64L490.07 1189.06L491.86 1191.46L493.68 1193.85L495.51 1196.23L497.35 1198.59L499.22 1200.93L501.11 1203.26L503.01 1205.58L504.94 1207.88L506.88 1210.16L508.84 1212.43L510.83 1214.68L512.82 1216.91L514.84 1219.13L516.88 1221.33L518.93 1223.52L521.01 1225.68L523.10 1227.83L525.21 1229.96L527.33 1232.07L529.48 1234.17L531.64 1236.25L533.82 1238.31L536.02 1240.35L538.23 1242.37L540.46 1244.37L542.71 1246.36L544.97 1248.33L547.25 1250.27L549.55 1252.20L551.86 1254.11L554.18 1256.00L556.53 1257.88L558.88 1259.73L561.26 1261.56L563.64 1263.38L566.04 1265.17L568.46 1266.95L570.89 1268.71L573.33 1270.45L575.78 1272.17L578.25 1273.87L580.73 1275.56L583.23 1277.22L585.73 1278.87L588.25 1280.50L590.78 1282.10L593.32 1283.70L595.87 1285.27L598.44 1286.82L601.01 1288.36L603.60 1289.88L606.19 1291.38L608.80 1292.87L611.41 1294.33L614.04 1295.78L616.67 1297.21L619.31 1298.63L621.97 1300.03L624.63 1301.41L627.30 1302.78L629.97 1304.12L632.66 1305.46L635.35 1306.78L638.05 1308.08L640.76 1309.36L643.48 1310.63L646.20 1311.89L648.93 1313.13L651.67 1314.35L654.41 1315.56L657.16 1316.76L659.92 1317.94L662.68 1319.11L665.45 1320.26L668.22 1321.40L671.00 1322.53L673.78 1323.64L676.57 1324.74L679.37 1325.83L682.17 1326.90L684.97 1327.96L687.78 1329.01L690.59 1330.04L693.41 1331.07L696.23 1332.08L699.06 1333.08L701.89 1334.06L704.73 1335.04L707.57 1336.00L710.41 1336.96L713.26 1337.90L716.11 1338.83L718.96 1339.75L721.82 1340.66L724.68 1341.56L727.54 1342.45L730.41 1343.33L733.28 1344.20L736.15 1345.05L739.02 1345.90L741.90 1346.74L744.78 1347.57L747.67 1348.39L750.55 1349.20L753.44 1350.01L756.33 1350.80L759.23 1351.59L762.12 1352.36L765.02 1353.13L767.92 1353.89L770.83 1354.64L773.73 1355.38L776.64 1356.12L779.55 1356.84L782.46 1357.56L785.37 1358.27L788.29 1358.98L791.20 1359.67L794.12 1360.36L797.04 1361.04L799.96 1361.72L802.88 1362.38L805.81 1363.04L808.74 1363.70L811.66 1364.34L814.59 1364.98L817.52 1365.62L820.46 1366.24L823.39 1366.87L826.32 1367.48L829.26 1368.09L832.20 1368.69L835.14 1369.29L838.08 1369.87L841.02 1370.46L843.96 1371.04L846.90 1371.61L849.85 1372.18L852.79 1372.74L855.74 1373.29L858.68 1373.84L861.63 1374.39L864.58 1374.93L867.53 1375.46L870.48 1375.99L873.44 1376.52L876.39 1377.04L879.34 1377.55L882.30 1378.06L885.25 1378.57L888.21 1379.07L891.17 1379.56L894.12 1380.05L897.08 1380.54L900.04 1381.02L903.00 1381.50L905.96 1381.97L908.92 1382.44L911.89 1382.91L914.85 1383.37L917.81 1383.82L920.78 1384.27L923.74 1384.72L926.71 1385.17L929.67 1385.61L932.64 1386.04L935.61 1386.48L938.57 1386.91L941.54 1387.33L944.51 1387.75L947.48 1388.17L950.45 1388.58L953.42 1388.99L956.39 1389.40L959.36 1389.81L962.33 1390.21L965.30 1390.60L968.28 1391.00L971.25 1391.39L974.22 1391.77L977.20 1392.16L980.17 1392.54L983.14 1392.92L986.12 1393.29L989.09 1393.66L992.07 1394.03L995.05 1394.39L998.02 1394.76L1001.00 1395.12L1003.98 1395.47L1006.95 1395.83L1009.93 1396.18L1012.91 1396.53L1015.89 1396.87L1018.87 1397.21L1021.84 1397.55L1024.82 1397.89L1027.80 1398.23L1030.78 1398.56L1033.76 1398.89L1036.74 1399.21L1039.73 1399.54L1042.71 1399.86L1045.69 1400.18L1048.67 1400.50L1051.65 1400.81L1054.63 1401.12L1057.61 1401.43L1060.60 1401.74L1063.58 1402.05L1066.56 1402.35L1069.55 1402.65L1072.53 1402.95L1075.51 1403.24L1078.50 1403.54L1081.48 1403.83L1084.47 1404.12L1087.45 1404.41L1090.43 1404.69L1093.42 1404.98L1096.40 1405.26L1099.39 1405.54L1102.38 1405.82L1105.36 1406.09L1108.35 1406.37L1111.33 1406.64L1114.32 1406.91L1117.31 1407.18L1120.29 1407.44L1123.28 1407.71L1126.27 1407.97L1129.25 1408.23L1132.24 1408.49L1135.23 1408.74L1138.21 1409.00L1141.20 1409.25L1144.19 1409.51L1147.18 1409.76L1150.17 1410.00L1153.15 1410.25L1156.14 1410.50L1159.13 1410.74L1162.12 1410.98L1165.11 1411.22L1168.10 1411.46L1171.09 1411.70L1174.07 1411.93L1177.06 1412.17L1180.05 1412.40L1183.04 1412.63L1186.03 1412.86L1189.02 1413.09L1192.01 1413.31L1195.00 1413.54L1197.99 1413.76L1200.98 1413.98L1203.97 1414.20L1206.96 1414.42L1209.95 1414.64L1212.94 1414.86L1215.93 1415.07L1218.92 1415.29L1221.91 1415.50L1224.91 1415.71L1227.90 1415.92L1230.89 1416.13L1233.88 1416.33L1236.87 1416.54L1239.86 1416.74L1242.85 1416.95L1245.84 1417.15L1248.84 1417.35L1251.83 1417.55L1254.82 1417.75L1257.81 1417.95L1260.80 1418.14L1263.79 1418.34L1266.79 1418.53L1269.78 1418.72L1272.77 1418.91L1275.76 1419.10L1278.76 1419.29L1281.75 1419.48L1284.74 1419.67L1287.73 1419.85L1290.73 1420.04L1293.72 1420.22L1296.71 1420.40L1299.70 1420.59L1302.70 1420.77L1305.69 1420.95L1308.68 1421.12L1311.68 1421.30L1314.67 1421.48L1317.66 1421.65L1320.66 1421.83L1323.65 1422.00L1326.64 1422.17L1329.64 1422.34L1332.63 1422.51L1335.62 1422.68L1338.62 1422.85L1341.61 1423.02L1344.60 1423.19L1347.60 1423.35L1350.59 1423.52L1353.59 1423.68L1356.58 1423.84L1359.57 1424.01L1362.57 1424.17L1365.56 1424.33L1368.56 1424.49L1371.55 1424.65L1374.54 1424.80L1377.54 1424.96L1380.53 1425.12L1383.53 1425.27L1386.52 1425.43L1389.51 1425.58L1392.51 1425.73L1395.50 1425.88L1398.50 1426.03L1401.49 1426.19L1404.49 1426.33L1407.48 1426.48L1410.48 1426.63L1413.47 1426.78L1416.47 1426.92L1419.46 1427.07L1422.46 1427.22L1425.45 1427.36L1428.45 1427.50L1431.44 1427.65L1434.44 1427.79L1437.43 1427.93L1440.43 1428.07L1443.42 1428.21L1446.42 1428.35L1449.41 1428.49L1452.41 1428.62L1455.40 1428.76L1458.40 1428.90L1461.39 1429.03L1464.39 1429.17L1467.38 1429.30L1470.38 1429.43L1473.37 1429.57L1476.37 1429.70L1479.36 1429.83L1482.36 1429.96L1485.35 1430.09L1488.35 1430.22L1491.35 1430.35L1494.34 1430.48L1497.34 1430.61L1500.33 1430.73L1503.33 1430.86L1506.32 1430.99L1509.32 1431.11L1512.32 1431.24L1515.31 1431.36L1518.31 1431.48L1521.30 1431.61L1524.30 1431.73L1527.29 1431.85L1530.29 1431.97L1533.29 1432.09L1536.28 1432.21L1539.28 1432.33L1542.27 1432.45L1545.27 1432.57L1548.27 1432.69L1551.26 1432.80L1554.26 1432.92L1557.25 1433.03L1560.25 1433.15L1563.25 1433.27L1566.24 1433.38L1569.24 1433.49L1572.23 1433.61L1575.23 1433.72L1578.23 1433.83L1581.22 1433.94L1584.22 1434.06L1587.22 1434.17L1590.21 1434.28L1593.21 1434.39L1596.20 1434.50L1599.20 1434.60L1602.20 1434.71L1605.19 1434.82L1608.19 1434.93L1611.19 1435.04L1614.18 1435.14L1617.18 1435.25L1620.18 1435.35L1623.17 1435.46L1626.17 1435.56L1629.17 1435.67L1632.16 1435.77L1635.16 1435.87L1638.16 1435.98L1641.15 1436.08L1644.15 1436.18L1647.15 1436.28L1650.14 1436.38L1653.14 1436.48L1656.14 1436.58L1659.13 1436.68L1662.13 1436.78L1665.13 1436.88L1668.12 1436.98L1671.12 1437.08L1674.12 1437.17L1677.11 1437.27L1680.11 1437.37L1683.11 1437.46L1686.10 1437.56L1689.10 1437.66L1692.10 1437.75L1695.09 1437.85L1698.09 1437.94L1701.09 1438.03L1704.08 1438.13L1707.08 1438.22L1710.08 1438.31L1713.07 1438.40L1716.07 1438.50L1719.07 1438.59L1722.06 1438.68L1725.06 1438.77L1728.06 1438.86L1731.06 1438.95L1734.05 1439.04L1737.05 1439.13L1740.05 1439.22L1743.04 1439.31L1746.04 1439.40L1749.04 1439.48L1752.03 1439.57L1755.03 1439.66L1758.03 1439.74L1761.03 1439.83L1764.02 1439.92L1767.02 1440.00L1770.02 1440.09L1773.01 1440.17L1776.01 1440.26L1779.01 1440.34L1782.01 1440.43L1785.00 1440.51L1788.00 1440.59L1791.00 1440.68L1793.99 1440.76L1796.99 1440.84L1799.99 1440.92L1802.99 1441.01L1805.98 1441.09L1808.98 1441.17L1811.98 1441.25L1814.97 1441.33L1817.97 1441.41L1820.97 1441.49L1823.97 1441.57L1826.96 1441.65L1829.96 1441.73L1832.96 1441.81L1835.96 1441.88L1838.95 1441.96L1841.95 1442.04L1844.95 1442.12L1847.95 1442.19L1850.94 1442.27L1853.94 1442.35L1856.94 1442.42L1859.93 1442.50L1862.93 1442.58L1865.93 1442.65L1868.93 1442.73L1871.92 1442.80L1874.92 1442.88L1877.92 1442.95L1880.92 1443.02L1883.91 1443.10L1886.91 1443.17L1889.91 1443.24L1892.91 1443.32L1895.90 1443.39L1898.90 1443.46L1901.90 1443.53L1904.90 1443.61L1907.89 1443.68L1910.89 1443.75L1913.89 1443.82L1916.89 1443.89L1919.88 1443.96L1922.88 1444.03L1925.88 1444.10L1928.88 1444.17L1931.87 1444.24L1934.87 1444.31L1937.87 1444.38L1940.87 1444.45L1943.86 1444.52L1946.86 1444.59L1949.86 1444.65L1952.86 1444.72L1955.85 1444.79L1958.85 1444.86L1961.85 1444.92L1964.85 1444.99L1967.84 1445.06L1970.84 1445.12L1973.84 1445.19L1976.84 1445.26L1979.83 1445.32L1982.83 1445.39L1985.83 1445.45L1988.83 1445.52L1991.82 1445.58L1994.82 1445.65L1997.82 1445.71L2000.82 1445.77L2003.82 1445.84L2006.81 1445.90L2009.81 1445.97L2012.81 1446.03L2015.81 1446.09L2018.80 1446.15L2021.80 1446.22L2024.80 1446.28L2027.80 1446.34L2030.79 1446.40L2033.79 1446.47L2036.79 1446.53L2039.79 1446.59L2042.78 1446.65L2045.78 1446.71L2048.78 1446.77L2051.78 1446.83L2054.78 1446.89L2057.77 1446.95L2060.77 1447.01L2063.77 1447.07L2066.77 1447.13L2069.76 1447.19L2072.76 1447.25L2075.76 1447.31L2078.76 1447.37L2081.76 1447.43L2084.75 1447.48L2087.75 1447.54L2090.75 1447.60L2093.75 1447.66L2096.74 1447.72L2099.74 1447.77L2102.74 1447.83L2105.74 1447.89L2108.74 1447.94L2111.73 1448.00L2114.73 1448.06L2117.73 1448.11L2120.73 1448.17L2123.72 1448.22L2126.72 1448.28L2129.72 1448.34L2132.72 1448.39L2135.72 1448.45L2138.71 1448.50L2141.71 1448.56L2144.71 1448.61L2147.71 1448.67L2150.70 1448.72L2153.70 1448.77L2156.70 1448.83L2159.70 1448.88L2162.70 1448.93L2165.69 1448.99L2168.69 1449.04L2171.69 1449.09L2174.69 1449.15L2177.69 1449.20L2180.68 1449.25L2183.68 1449.31L2186.68 1449.36L2189.68 1449.41L2192.67 1449.46L2195.67 1449.51L2198.67 1449.56L2201.67 1449.62L2204.67 1449.67L2207.66 1449.72L2210.66 1449.77L2213.66 1449.82L2216.66 1449.87L2219.66 1449.92L2222.65 1449.97L2225.65 1450.02L2228.65 1450.07L2231.65 1450.12L2234.64 1450.17L2237.64 1450.22L2240.64 1450.27L2243.64 1450.32L2246.64 1450.37L2249.63 1450.42L2252.63 1450.47L2255.63 1450.52L2258.63 1450.56L2261.63 1450.61L2264.62 1450.66L2267.62 1450.71L2270.62 1450.76L2273.62 1450.80L2276.62 1450.85L2279.61 1450.90L2282.61 1450.95L2285.61 1450.99L2288.61 1451.04L2291.61 1451.09L2294.60 1451.14L2297.60 1451.18L2300.60 1451.23L2303.60 1451.27L2306.60 1451.32L2309.59 1451.37L2312.59 1451.41L2315.59 1451.46L2318.59 1451.50L2321.59 1451.55L2324.58 1451.60L2327.58 1451.64L2330.58 1451.69L2333.58 1451.73L2336.58 1451.78L2339.57 1451.82L2342.57 1451.87L2345.57 1451.91L2348.57 1451.96L2351.57 1452.00L2354.56 1452.04L2357.56 1452.09L2360.56 1452.13L2363.56 1452.18L2366.56 1452.22L2369.55 1452.26L2372.55 1452.31L2375.55 1452.35L2378.55 1452.39L2381.55 1452.44L2384.54 1452.48L2387.54 1452.52L2390.54 1452.56L2393.54 1452.61L2396.54 1452.65L2399.53 1452.69L2402.53 1452.73L2405.53 1452.78L2408.53 1452.82L2411.53 1452.86L2414.52 1452.90L2417.52 1452.94L2420.52 1452.98L2423.52 1453.03L2426.52 1453.07L2429.51 1453.11L2432.51 1453.15L2435.51 1453.19L2438.51 1453.23L2441.51 1453.27L2444.50 1453.31L2447.50 1453.35L2450.50 1453.39" stroke="#000" stroke-width="4"/>
<circle cx="571.9" cy="787.0" r="19.8" stroke="#000" stroke-width="6"/>
<circle cx="571.9" cy="860.1" r="19.8" stroke="#000" stroke-width="6"/>
<circle cx="571.9" cy="915.7" r="19.8" stroke="#000" stroke-width="6"/>
<circle cx="473.1" cy="877.0" r="19.8" stroke="#000" stroke-width="6"/>
<circle cx="449.9" cy="1134.9" r="19.8" stroke="#000" stroke-width="6"/>
<circle cx="588.5" cy="1126.5" r="19.8" stroke="#000" stroke-width="6"/>
<circle cx="605.6" cy="1152.6" r="19.8" stroke="#000" stroke-width="6"/>
<circle cx="551.6" cy="1169.7" r="19.8" stroke="#000" stroke-width="6"/>
<circle cx="672.6" cy="1225.5" r="19.8" stroke="#000" stroke-width="6"/>
<circle cx="456.7" cy="1233.5" r="19.8" stroke="#000" stroke-width="6"/>
<circle cx="521.9" cy="1272.6" r="19.8" stroke="#000" stroke-width="6"/>
<circle cx="521.9" cy="1294.0" r="19.8" stroke="#000" stroke-width="6"/>
<circle cx="689.9" cy="1358.8" r="19.8" stroke="#000" stroke-width="6"/>
<circle cx="538.7" cy="1392.9" r="19.8" stroke="#000" stroke-width="6"/>
<circle cx="551.8" cy="1432.0" r="19.8" stroke="#000" stroke-width="6"/>
<circle cx="689.9" cy="1418.9" r="19.8" stroke="#000" stroke-width="6"/>
<circle cx="741.2" cy="1462.0" r="19.8" stroke="#000" stroke-width="6"/>
<circle cx="801.7" cy="1435.7" r="19.8" stroke="#000" stroke-width="6"/>
<circle cx="551.8" cy="1492.0" r="19.8" stroke="#000" stroke-width="6"/>
<circle cx="649.8" cy="1492.0" r="19.8" stroke="#000" stroke-width="6"/>
<circle cx="586.1" cy="1552.1" r="19.8" stroke="#000" stroke-width="6"/>
<circle cx="621.4" cy="1552.1" r="19.8" stroke="#000" stroke-width="6"/>
<circle cx="603.7" cy="1608.0" r="19.8" stroke="#000" stroke-width="6"/>
<circle cx="921.6" cy="1383.8" r="19.8" stroke="#000" stroke-width="6"/>
<circle cx="921.6" cy="1448.5" r="19.8" stroke="#000" stroke-width="6"/>
<circle cx="921.6" cy="1466.1" r="19.8" stroke="#000" stroke-width="6"/>
<circle cx="971.9" cy="1448.9" r="19.8" stroke="#000" stroke-width="6"/>
<circle cx="993.1" cy="1435.7" r="19.8" stroke="#000" stroke-width="6"/>
<circle cx="971.9" cy="1508.8" r="19.8" stroke="#000" stroke-width="6"/>
<circle cx="1083.2" cy="1294.1" r="19.8" stroke="#000" stroke-width="6"/>
<circle cx="1071.1" cy="1349.9" r="19.8" stroke="#000" stroke-width="6"/>
<circle cx="1222.8" cy="1422.9" r="19.8" stroke="#000" stroke-width="6"/>
<circle cx="1253.9" cy="1462.0" r="19.8" stroke="#000" stroke-width="6"/>
<circle cx="1194.9" cy="1500.5" r="19.8" stroke="#000" stroke-width="6"/>
<circle cx="1224.7" cy="1508.8" r="19.8" stroke="#000" stroke-width="6"/>
<circle cx="1359.0" cy="1508.8" r="19.8" stroke="#000" stroke-width="6"/>
<circle cx="1405.1" cy="1582.3" r="19.8" stroke="#000" stroke-width="6"/>
<circle cx="1542.0" cy="1409.2" r="19.8" stroke="#000" stroke-width="6"/>
<circle cx="1526.5" cy="1449.4" r="19.8" stroke="#000" stroke-width="6"/>
<circle cx="1576.7" cy="1513.4" r="19.8" stroke="#000" stroke-width="6"/>
<circle cx="1559.1" cy="1569.2" r="19.8" stroke="#000" stroke-width="6"/>
<circle cx="1820.1" cy="1526.6" r="19.8" stroke="#000" stroke-width="6"/>
<circle cx="1747.0" cy="1569.2" r="19.8" stroke="#000" stroke-width="6"/>
<circle cx="1974.5" cy="1526.6" r="19.8" stroke="#000" stroke-width="6"/>
<circle cx="2089.7" cy="1466.0" r="19.8" stroke="#000" stroke-width="6"/>
<circle cx="2170.2" cy="1607.9" r="19.8" stroke="#000" stroke-width="6"/>
<circle cx="1337.6" cy="928.7" r="19.8" stroke="#000" stroke-width="6"/>
<circle cx="1220.9" cy="1057.7" r="19.8" stroke="#000" stroke-width="6"/>
<circle cx="1314.9" cy="1100.8" r="19.8" stroke="#000" stroke-width="6"/>
<circle cx="1276.4" cy="1143.8" r="19.8" stroke="#000" stroke-width="6"/>
<circle cx="1622.7" cy="1246.9" r="19.8" stroke="#000" stroke-width="6"/>
</g>
<g font-family="Liberation Sans, Arial, Helvetica, sans-serif" font-size="66.6" fill="#262626" stroke="#262626" stroke-width="1" stroke-linejoin="round">
<text x="243.20" y="1797.70" text-anchor="end">0</text>
<text x="115.48" y="1367.85" clip-path="url(#c01)">0.0<tspan dx="1.70">1</tspan></text>
<text x="245.10" y="938.00" text-anchor="end">0.02</text>
<text x="245.10" y="508.15" text-anchor="end">0.03</text>
<text x="245.10" y="78.30" text-anchor="end">0.04</text>
<text x="271.20" y="1867" text-anchor="middle">0</text>
<text x="837.78" y="1867" clip-path="url(#c100)"><tspan dx="1.70">1</tspan><tspan dx="-1.70">00</tspan></text>
<text x="1515.49" y="1867" text-anchor="middle">200</text>
<text x="2137.63" y="1867" text-anchor="middle">300</text>
</g>
<text x="1361.75" y="1963.7" text-anchor="middle" font-family="Liberation Sans, Arial, Helvetica, sans-serif" font-size="73.9" fill="#262626" stroke="#262626" stroke-width="1" stroke-linejoin="round">Building Hight, H (m)</text>
<text transform="translate(76,1195.4) rotate(-90)" font-family="Liberation Sans, Arial, Helvetica, sans-serif" font-size="73.9" fill="#262626" stroke="#262626" stroke-width="1" stroke-linejoin="round">Damping Ratio, </text>
<text transform="translate(79,664.9) rotate(-90)" font-family="Liberation Serif, Times New Roman, serif" font-style="italic" font-size="79" fill="#262626" stroke="#262626" stroke-width="1.4" stroke-linejoin="round">&#958;</text>
<rect x="1648.0" y="107.0" width="747.0" height="511.4" fill="#fff" stroke="#262626" stroke-width="4"/>
<g fill="none" shape-rendering="crispEdges">
<path d="M1667.0 157.00H1869.0" stroke="#0000ff" stroke-width="4" stroke-dasharray="51 29.24"/>
<path d="M1667.0 239.35H1866.0" stroke="#ff0000" stroke-width="4.6" stroke-dasharray="6 14.06"/>
<path d="M1667.0 321.70H1869.0" stroke="#000" stroke-width="4.2" stroke-dasharray="41 13.87 11.5 13.87"/>
<path d="M1667.0 404.05H1866.0" stroke="#ff00ff" stroke-width="4.4" stroke-dasharray="6 14.06"/>
<use href="#ast" x="1767.9" y="404.05"/>
<path d="M1667.0 486.40H1869.0" stroke="#000" stroke-width="4"/>
<circle cx="1767.9" cy="568.75" r="19.8" stroke="#000" stroke-width="6"/>
</g>
<g font-family="Liberation Sans, Arial, Helvetica, sans-serif" font-size="60.4" fill="#000" stroke="#000" stroke-width="1.2" stroke-linejoin="round">
<text x="1882.6" y="179.90">Lagomarsino</text>
<text x="1882.6" y="262.25">AIJ 2000</text>
<text x="1882.6" y="344.60">Yoon</text>
<text x="1882.6" y="426.95">ISO 4354</text>
<text x="1882.6" y="509.30" clip-path="url(#cleg)">Proposed Eq. (2<tspan dx="1.54">1</tspan><tspan dx="-1.54">)</tspan></text>
<text x="1882.6" y="591.65">Measured data</text>
</g>
<defs><clipPath id="c01"><path clip-rule="evenodd" d="M0 0H2473 V1997 H0Z M212.83 1361.17H225.81V1369.85H212.83Z M233.09 1361.17H245.55V1369.85H233.09Z"/></clipPath><clipPath id="c100"><path clip-rule="evenodd" d="M0 0H2473 V1997 H0Z M842.56 1860.32H855.53V1869.00H842.56Z M862.82 1860.32H875.27V1869.00H862.82Z"/></clipPath><clipPath id="cleg"><path clip-rule="evenodd" d="M0 0H2473 V1997 H0Z M2323.13 502.99H2335.01V511.40H2323.13Z M2341.95 502.99H2353.37V511.40H2341.95Z"/></clipPath></defs>
</svg></body></html>
